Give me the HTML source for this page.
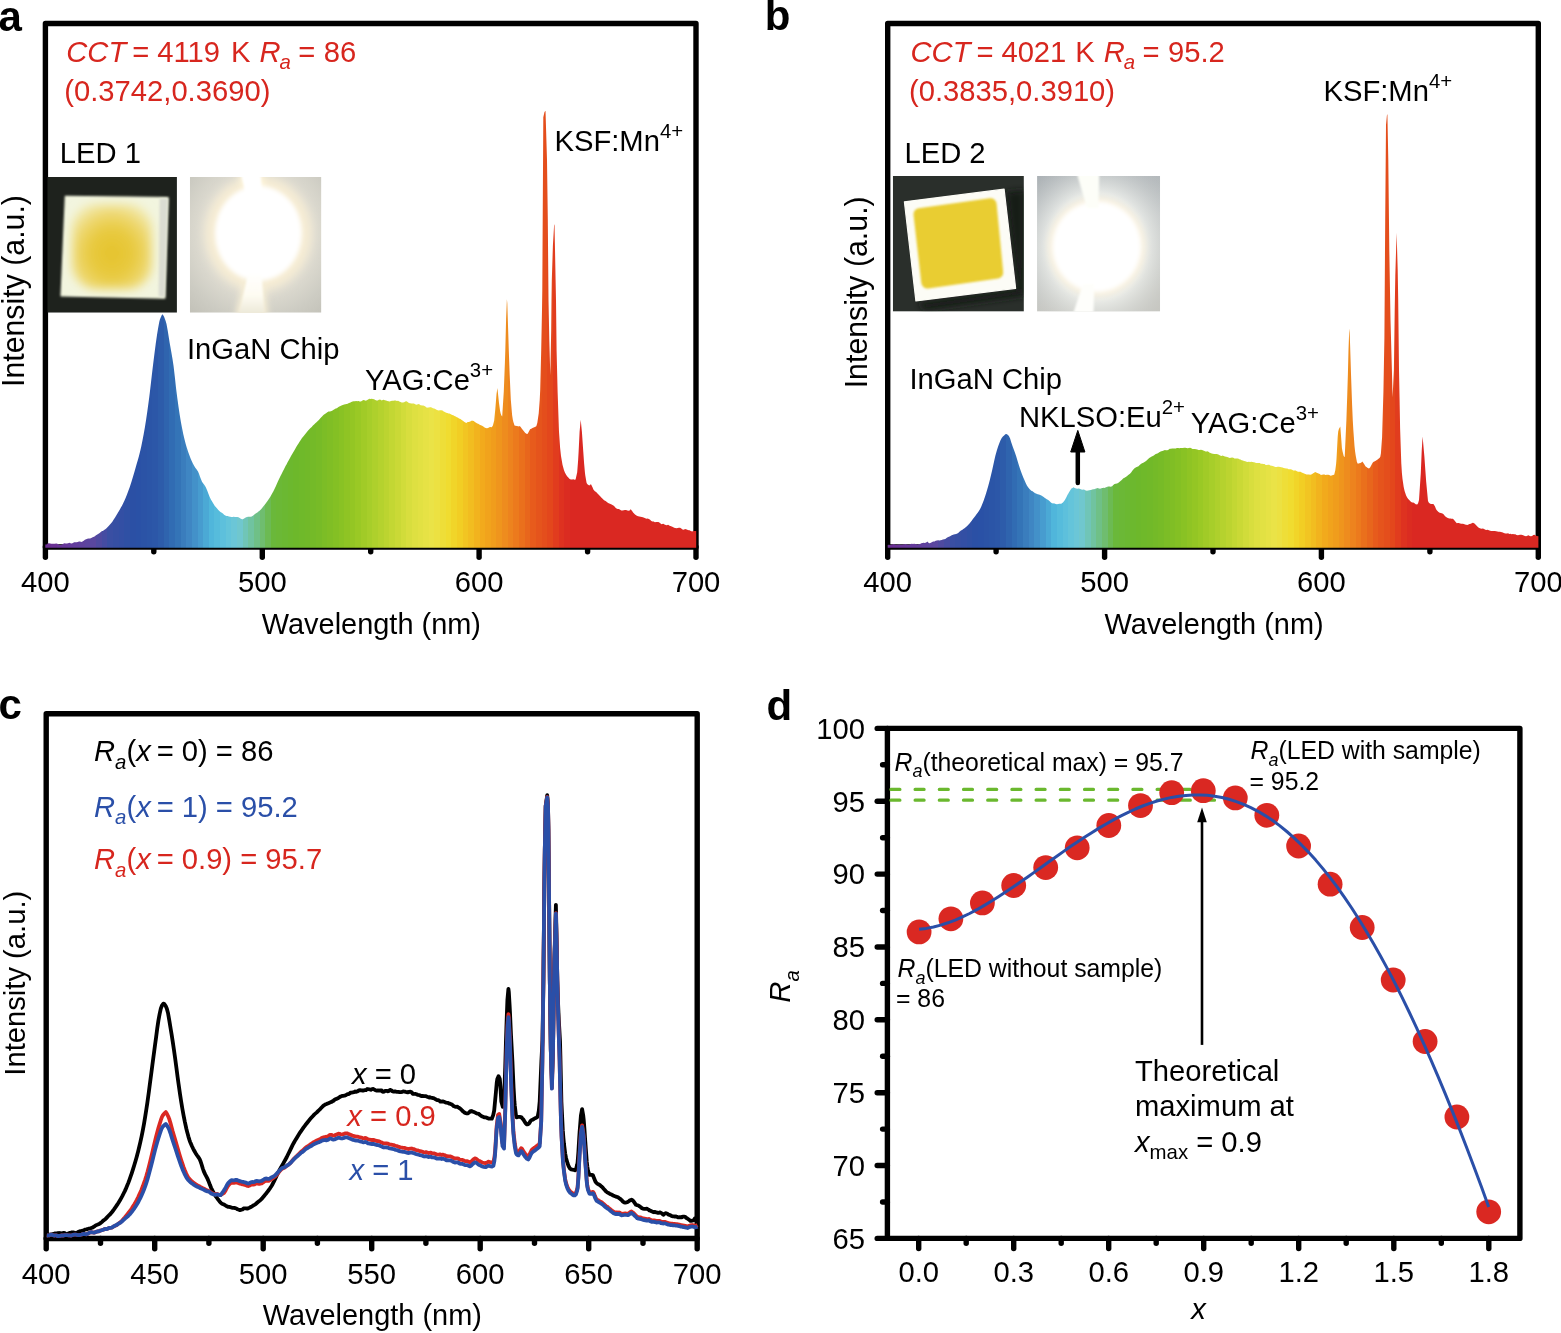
<!DOCTYPE html>
<html lang="en"><head><meta charset="utf-8"><title>LED spectra figure</title>
<style>
html,body{margin:0;padding:0;background:#fff;}
svg{display:block}
text{font-family:'Liberation Sans', Arial, Helvetica, sans-serif;font-size:29.2px;fill:#000}
.i{font-style:italic}
.b{font-weight:bold;font-size:42px}
.r{fill:#d7261e}
.bl{fill:#2a4fa8}
.sub{font-size:20.4px}
.ax{stroke:#000;stroke-width:5.4;fill:none;stroke-linejoin:round;stroke-linecap:round}
</style></head><body>
<svg width="1561" height="1333" viewBox="0 0 1561 1333">
<defs>
<linearGradient id="ga" gradientUnits="userSpaceOnUse" x1="45.3" y1="0" x2="696.0" y2="0"><stop offset="0.0000" stop-color="#6a2e90"/><stop offset="0.0087" stop-color="#6a2e90"/><stop offset="0.0087" stop-color="#693193"/><stop offset="0.0173" stop-color="#693193"/><stop offset="0.0173" stop-color="#683496"/><stop offset="0.0260" stop-color="#683496"/><stop offset="0.0260" stop-color="#663799"/><stop offset="0.0347" stop-color="#663799"/><stop offset="0.0347" stop-color="#643a9b"/><stop offset="0.0433" stop-color="#643a9b"/><stop offset="0.0433" stop-color="#623d9c"/><stop offset="0.0520" stop-color="#623d9c"/><stop offset="0.0520" stop-color="#5f419d"/><stop offset="0.0607" stop-color="#5f419d"/><stop offset="0.0607" stop-color="#5c449e"/><stop offset="0.0693" stop-color="#5c449e"/><stop offset="0.0693" stop-color="#5a479f"/><stop offset="0.0780" stop-color="#5a479f"/><stop offset="0.0780" stop-color="#4f4aa0"/><stop offset="0.0867" stop-color="#4f4aa0"/><stop offset="0.0867" stop-color="#454ca2"/><stop offset="0.0953" stop-color="#454ca2"/><stop offset="0.0953" stop-color="#3a4fa3"/><stop offset="0.1040" stop-color="#3a4fa3"/><stop offset="0.1040" stop-color="#364fa3"/><stop offset="0.1127" stop-color="#364fa3"/><stop offset="0.1127" stop-color="#334fa4"/><stop offset="0.1213" stop-color="#334fa4"/><stop offset="0.1213" stop-color="#2f50a4"/><stop offset="0.1300" stop-color="#2f50a4"/><stop offset="0.1300" stop-color="#2b50a5"/><stop offset="0.1387" stop-color="#2b50a5"/><stop offset="0.1387" stop-color="#2a51a6"/><stop offset="0.1473" stop-color="#2a51a6"/><stop offset="0.1473" stop-color="#2b53a6"/><stop offset="0.1560" stop-color="#2b53a6"/><stop offset="0.1560" stop-color="#2b55a7"/><stop offset="0.1647" stop-color="#2b55a7"/><stop offset="0.1647" stop-color="#2c57a8"/><stop offset="0.1733" stop-color="#2c57a8"/><stop offset="0.1733" stop-color="#2d5caa"/><stop offset="0.1820" stop-color="#2d5caa"/><stop offset="0.1820" stop-color="#2f64ae"/><stop offset="0.1907" stop-color="#2f64ae"/><stop offset="0.1907" stop-color="#316cb3"/><stop offset="0.1993" stop-color="#316cb3"/><stop offset="0.1993" stop-color="#3474b7"/><stop offset="0.2080" stop-color="#3474b7"/><stop offset="0.2080" stop-color="#3a7dbd"/><stop offset="0.2167" stop-color="#3a7dbd"/><stop offset="0.2167" stop-color="#3f86c3"/><stop offset="0.2253" stop-color="#3f86c3"/><stop offset="0.2253" stop-color="#4391c9"/><stop offset="0.2340" stop-color="#4391c9"/><stop offset="0.2340" stop-color="#479ccf"/><stop offset="0.2427" stop-color="#479ccf"/><stop offset="0.2427" stop-color="#4ba9d5"/><stop offset="0.2513" stop-color="#4ba9d5"/><stop offset="0.2513" stop-color="#50b6db"/><stop offset="0.2600" stop-color="#50b6db"/><stop offset="0.2600" stop-color="#56bcdc"/><stop offset="0.2687" stop-color="#56bcdc"/><stop offset="0.2687" stop-color="#5dc0dc"/><stop offset="0.2773" stop-color="#5dc0dc"/><stop offset="0.2773" stop-color="#64c4da"/><stop offset="0.2860" stop-color="#64c4da"/><stop offset="0.2860" stop-color="#6bc6d7"/><stop offset="0.2947" stop-color="#6bc6d7"/><stop offset="0.2947" stop-color="#70c7ce"/><stop offset="0.3033" stop-color="#70c7ce"/><stop offset="0.3033" stop-color="#70c5b7"/><stop offset="0.3120" stop-color="#70c5b7"/><stop offset="0.3120" stop-color="#70c3a0"/><stop offset="0.3207" stop-color="#70c3a0"/><stop offset="0.3207" stop-color="#6fc087"/><stop offset="0.3293" stop-color="#6fc087"/><stop offset="0.3293" stop-color="#6fbd6f"/><stop offset="0.3380" stop-color="#6fbd6f"/><stop offset="0.3380" stop-color="#6cba53"/><stop offset="0.3467" stop-color="#6cba53"/><stop offset="0.3467" stop-color="#6ab83a"/><stop offset="0.3553" stop-color="#6ab83a"/><stop offset="0.3553" stop-color="#6bb836"/><stop offset="0.3640" stop-color="#6bb836"/><stop offset="0.3640" stop-color="#6bb832"/><stop offset="0.3727" stop-color="#6bb832"/><stop offset="0.3727" stop-color="#6cb82e"/><stop offset="0.3813" stop-color="#6cb82e"/><stop offset="0.3813" stop-color="#6db82b"/><stop offset="0.3900" stop-color="#6db82b"/><stop offset="0.3900" stop-color="#6fb92a"/><stop offset="0.3987" stop-color="#6fb92a"/><stop offset="0.3987" stop-color="#71b929"/><stop offset="0.4073" stop-color="#71b929"/><stop offset="0.4073" stop-color="#74ba28"/><stop offset="0.4160" stop-color="#74ba28"/><stop offset="0.4160" stop-color="#77bb27"/><stop offset="0.4247" stop-color="#77bb27"/><stop offset="0.4247" stop-color="#7cbd26"/><stop offset="0.4333" stop-color="#7cbd26"/><stop offset="0.4333" stop-color="#80be25"/><stop offset="0.4420" stop-color="#80be25"/><stop offset="0.4420" stop-color="#84c024"/><stop offset="0.4507" stop-color="#84c024"/><stop offset="0.4507" stop-color="#89c224"/><stop offset="0.4593" stop-color="#89c224"/><stop offset="0.4593" stop-color="#8fc424"/><stop offset="0.4680" stop-color="#8fc424"/><stop offset="0.4680" stop-color="#94c624"/><stop offset="0.4767" stop-color="#94c624"/><stop offset="0.4767" stop-color="#9ac925"/><stop offset="0.4853" stop-color="#9ac925"/><stop offset="0.4853" stop-color="#a1cb27"/><stop offset="0.4940" stop-color="#a1cb27"/><stop offset="0.4940" stop-color="#a7ce2a"/><stop offset="0.5027" stop-color="#a7ce2a"/><stop offset="0.5027" stop-color="#aed02c"/><stop offset="0.5113" stop-color="#aed02c"/><stop offset="0.5113" stop-color="#b5d22e"/><stop offset="0.5200" stop-color="#b5d22e"/><stop offset="0.5200" stop-color="#bcd430"/><stop offset="0.5287" stop-color="#bcd430"/><stop offset="0.5287" stop-color="#c3d733"/><stop offset="0.5373" stop-color="#c3d733"/><stop offset="0.5373" stop-color="#cad936"/><stop offset="0.5460" stop-color="#cad936"/><stop offset="0.5460" stop-color="#d1dc3a"/><stop offset="0.5547" stop-color="#d1dc3a"/><stop offset="0.5547" stop-color="#d8de3e"/><stop offset="0.5633" stop-color="#d8de3e"/><stop offset="0.5633" stop-color="#dee041"/><stop offset="0.5720" stop-color="#dee041"/><stop offset="0.5720" stop-color="#e2e143"/><stop offset="0.5807" stop-color="#e2e143"/><stop offset="0.5807" stop-color="#e6e245"/><stop offset="0.5893" stop-color="#e6e245"/><stop offset="0.5893" stop-color="#eae347"/><stop offset="0.5980" stop-color="#eae347"/><stop offset="0.5980" stop-color="#ece142"/><stop offset="0.6067" stop-color="#ece142"/><stop offset="0.6067" stop-color="#eede38"/><stop offset="0.6153" stop-color="#eede38"/><stop offset="0.6153" stop-color="#f0dc30"/><stop offset="0.6240" stop-color="#f0dc30"/><stop offset="0.6240" stop-color="#f1d529"/><stop offset="0.6327" stop-color="#f1d529"/><stop offset="0.6327" stop-color="#f2ce24"/><stop offset="0.6413" stop-color="#f2ce24"/><stop offset="0.6413" stop-color="#f2c522"/><stop offset="0.6500" stop-color="#f2c522"/><stop offset="0.6500" stop-color="#f2bd20"/><stop offset="0.6587" stop-color="#f2bd20"/><stop offset="0.6587" stop-color="#f2b31e"/><stop offset="0.6673" stop-color="#f2b31e"/><stop offset="0.6673" stop-color="#f2aa1c"/><stop offset="0.6760" stop-color="#f2aa1c"/><stop offset="0.6760" stop-color="#f1a31c"/><stop offset="0.6847" stop-color="#f1a31c"/><stop offset="0.6847" stop-color="#f09d1c"/><stop offset="0.6933" stop-color="#f09d1c"/><stop offset="0.6933" stop-color="#ef951d"/><stop offset="0.7020" stop-color="#ef951d"/><stop offset="0.7020" stop-color="#ee8c1e"/><stop offset="0.7107" stop-color="#ee8c1e"/><stop offset="0.7107" stop-color="#ed831e"/><stop offset="0.7193" stop-color="#ed831e"/><stop offset="0.7193" stop-color="#ec7a1d"/><stop offset="0.7280" stop-color="#ec7a1d"/><stop offset="0.7280" stop-color="#ea701c"/><stop offset="0.7367" stop-color="#ea701c"/><stop offset="0.7367" stop-color="#e8661c"/><stop offset="0.7453" stop-color="#e8661c"/><stop offset="0.7453" stop-color="#e75b1c"/><stop offset="0.7540" stop-color="#e75b1c"/><stop offset="0.7540" stop-color="#e5541c"/><stop offset="0.7627" stop-color="#e5541c"/><stop offset="0.7627" stop-color="#e44e1c"/><stop offset="0.7713" stop-color="#e44e1c"/><stop offset="0.7713" stop-color="#e3471c"/><stop offset="0.7800" stop-color="#e3471c"/><stop offset="0.7800" stop-color="#e13c1e"/><stop offset="0.7887" stop-color="#e13c1e"/><stop offset="0.7887" stop-color="#de3220"/><stop offset="0.7973" stop-color="#de3220"/><stop offset="0.7973" stop-color="#db2c21"/><stop offset="0.8060" stop-color="#db2c21"/><stop offset="0.8060" stop-color="#da2822"/><stop offset="0.8147" stop-color="#da2822"/><stop offset="0.8147" stop-color="#da2822"/><stop offset="0.8233" stop-color="#da2822"/><stop offset="1" stop-color="#da2822"/></linearGradient>
<linearGradient id="gb" gradientUnits="userSpaceOnUse" x1="887.7" y1="0" x2="1538.4" y2="0"><stop offset="0.0000" stop-color="#6a2e90"/><stop offset="0.0087" stop-color="#6a2e90"/><stop offset="0.0087" stop-color="#693193"/><stop offset="0.0173" stop-color="#693193"/><stop offset="0.0173" stop-color="#683496"/><stop offset="0.0260" stop-color="#683496"/><stop offset="0.0260" stop-color="#663799"/><stop offset="0.0347" stop-color="#663799"/><stop offset="0.0347" stop-color="#643a9b"/><stop offset="0.0433" stop-color="#643a9b"/><stop offset="0.0433" stop-color="#623d9c"/><stop offset="0.0520" stop-color="#623d9c"/><stop offset="0.0520" stop-color="#5f419d"/><stop offset="0.0607" stop-color="#5f419d"/><stop offset="0.0607" stop-color="#5c449e"/><stop offset="0.0693" stop-color="#5c449e"/><stop offset="0.0693" stop-color="#5a479f"/><stop offset="0.0780" stop-color="#5a479f"/><stop offset="0.0780" stop-color="#4f4aa0"/><stop offset="0.0867" stop-color="#4f4aa0"/><stop offset="0.0867" stop-color="#454ca2"/><stop offset="0.0953" stop-color="#454ca2"/><stop offset="0.0953" stop-color="#3a4fa3"/><stop offset="0.1040" stop-color="#3a4fa3"/><stop offset="0.1040" stop-color="#364fa3"/><stop offset="0.1127" stop-color="#364fa3"/><stop offset="0.1127" stop-color="#334fa4"/><stop offset="0.1213" stop-color="#334fa4"/><stop offset="0.1213" stop-color="#2f50a4"/><stop offset="0.1300" stop-color="#2f50a4"/><stop offset="0.1300" stop-color="#2b50a5"/><stop offset="0.1387" stop-color="#2b50a5"/><stop offset="0.1387" stop-color="#2a51a6"/><stop offset="0.1473" stop-color="#2a51a6"/><stop offset="0.1473" stop-color="#2b53a6"/><stop offset="0.1560" stop-color="#2b53a6"/><stop offset="0.1560" stop-color="#2b55a7"/><stop offset="0.1647" stop-color="#2b55a7"/><stop offset="0.1647" stop-color="#2c57a8"/><stop offset="0.1733" stop-color="#2c57a8"/><stop offset="0.1733" stop-color="#2d5caa"/><stop offset="0.1820" stop-color="#2d5caa"/><stop offset="0.1820" stop-color="#2f64ae"/><stop offset="0.1907" stop-color="#2f64ae"/><stop offset="0.1907" stop-color="#316cb3"/><stop offset="0.1993" stop-color="#316cb3"/><stop offset="0.1993" stop-color="#3474b7"/><stop offset="0.2080" stop-color="#3474b7"/><stop offset="0.2080" stop-color="#3a7dbd"/><stop offset="0.2167" stop-color="#3a7dbd"/><stop offset="0.2167" stop-color="#3f86c3"/><stop offset="0.2253" stop-color="#3f86c3"/><stop offset="0.2253" stop-color="#4391c9"/><stop offset="0.2340" stop-color="#4391c9"/><stop offset="0.2340" stop-color="#479ccf"/><stop offset="0.2427" stop-color="#479ccf"/><stop offset="0.2427" stop-color="#4ba9d5"/><stop offset="0.2513" stop-color="#4ba9d5"/><stop offset="0.2513" stop-color="#50b6db"/><stop offset="0.2600" stop-color="#50b6db"/><stop offset="0.2600" stop-color="#56bcdc"/><stop offset="0.2687" stop-color="#56bcdc"/><stop offset="0.2687" stop-color="#5dc0dc"/><stop offset="0.2773" stop-color="#5dc0dc"/><stop offset="0.2773" stop-color="#64c4da"/><stop offset="0.2860" stop-color="#64c4da"/><stop offset="0.2860" stop-color="#6bc6d7"/><stop offset="0.2947" stop-color="#6bc6d7"/><stop offset="0.2947" stop-color="#70c7ce"/><stop offset="0.3033" stop-color="#70c7ce"/><stop offset="0.3033" stop-color="#70c5b7"/><stop offset="0.3120" stop-color="#70c5b7"/><stop offset="0.3120" stop-color="#70c3a0"/><stop offset="0.3207" stop-color="#70c3a0"/><stop offset="0.3207" stop-color="#6fc087"/><stop offset="0.3293" stop-color="#6fc087"/><stop offset="0.3293" stop-color="#6fbd6f"/><stop offset="0.3380" stop-color="#6fbd6f"/><stop offset="0.3380" stop-color="#6cba53"/><stop offset="0.3467" stop-color="#6cba53"/><stop offset="0.3467" stop-color="#6ab83a"/><stop offset="0.3553" stop-color="#6ab83a"/><stop offset="0.3553" stop-color="#6bb836"/><stop offset="0.3640" stop-color="#6bb836"/><stop offset="0.3640" stop-color="#6bb832"/><stop offset="0.3727" stop-color="#6bb832"/><stop offset="0.3727" stop-color="#6cb82e"/><stop offset="0.3813" stop-color="#6cb82e"/><stop offset="0.3813" stop-color="#6db82b"/><stop offset="0.3900" stop-color="#6db82b"/><stop offset="0.3900" stop-color="#6fb92a"/><stop offset="0.3987" stop-color="#6fb92a"/><stop offset="0.3987" stop-color="#71b929"/><stop offset="0.4073" stop-color="#71b929"/><stop offset="0.4073" stop-color="#74ba28"/><stop offset="0.4160" stop-color="#74ba28"/><stop offset="0.4160" stop-color="#77bb27"/><stop offset="0.4247" stop-color="#77bb27"/><stop offset="0.4247" stop-color="#7cbd26"/><stop offset="0.4333" stop-color="#7cbd26"/><stop offset="0.4333" stop-color="#80be25"/><stop offset="0.4420" stop-color="#80be25"/><stop offset="0.4420" stop-color="#84c024"/><stop offset="0.4507" stop-color="#84c024"/><stop offset="0.4507" stop-color="#89c224"/><stop offset="0.4593" stop-color="#89c224"/><stop offset="0.4593" stop-color="#8fc424"/><stop offset="0.4680" stop-color="#8fc424"/><stop offset="0.4680" stop-color="#94c624"/><stop offset="0.4767" stop-color="#94c624"/><stop offset="0.4767" stop-color="#9ac925"/><stop offset="0.4853" stop-color="#9ac925"/><stop offset="0.4853" stop-color="#a1cb27"/><stop offset="0.4940" stop-color="#a1cb27"/><stop offset="0.4940" stop-color="#a7ce2a"/><stop offset="0.5027" stop-color="#a7ce2a"/><stop offset="0.5027" stop-color="#aed02c"/><stop offset="0.5113" stop-color="#aed02c"/><stop offset="0.5113" stop-color="#b5d22e"/><stop offset="0.5200" stop-color="#b5d22e"/><stop offset="0.5200" stop-color="#bcd430"/><stop offset="0.5287" stop-color="#bcd430"/><stop offset="0.5287" stop-color="#c3d733"/><stop offset="0.5373" stop-color="#c3d733"/><stop offset="0.5373" stop-color="#cad936"/><stop offset="0.5460" stop-color="#cad936"/><stop offset="0.5460" stop-color="#d1dc3a"/><stop offset="0.5547" stop-color="#d1dc3a"/><stop offset="0.5547" stop-color="#d8de3e"/><stop offset="0.5633" stop-color="#d8de3e"/><stop offset="0.5633" stop-color="#dee041"/><stop offset="0.5720" stop-color="#dee041"/><stop offset="0.5720" stop-color="#e2e143"/><stop offset="0.5807" stop-color="#e2e143"/><stop offset="0.5807" stop-color="#e6e245"/><stop offset="0.5893" stop-color="#e6e245"/><stop offset="0.5893" stop-color="#eae347"/><stop offset="0.5980" stop-color="#eae347"/><stop offset="0.5980" stop-color="#ece142"/><stop offset="0.6067" stop-color="#ece142"/><stop offset="0.6067" stop-color="#eede38"/><stop offset="0.6153" stop-color="#eede38"/><stop offset="0.6153" stop-color="#f0dc30"/><stop offset="0.6240" stop-color="#f0dc30"/><stop offset="0.6240" stop-color="#f1d529"/><stop offset="0.6327" stop-color="#f1d529"/><stop offset="0.6327" stop-color="#f2ce24"/><stop offset="0.6413" stop-color="#f2ce24"/><stop offset="0.6413" stop-color="#f2c522"/><stop offset="0.6500" stop-color="#f2c522"/><stop offset="0.6500" stop-color="#f2bd20"/><stop offset="0.6587" stop-color="#f2bd20"/><stop offset="0.6587" stop-color="#f2b31e"/><stop offset="0.6673" stop-color="#f2b31e"/><stop offset="0.6673" stop-color="#f2aa1c"/><stop offset="0.6760" stop-color="#f2aa1c"/><stop offset="0.6760" stop-color="#f1a31c"/><stop offset="0.6847" stop-color="#f1a31c"/><stop offset="0.6847" stop-color="#f09d1c"/><stop offset="0.6933" stop-color="#f09d1c"/><stop offset="0.6933" stop-color="#ef951d"/><stop offset="0.7020" stop-color="#ef951d"/><stop offset="0.7020" stop-color="#ee8c1e"/><stop offset="0.7107" stop-color="#ee8c1e"/><stop offset="0.7107" stop-color="#ed831e"/><stop offset="0.7193" stop-color="#ed831e"/><stop offset="0.7193" stop-color="#ec7a1d"/><stop offset="0.7280" stop-color="#ec7a1d"/><stop offset="0.7280" stop-color="#ea701c"/><stop offset="0.7367" stop-color="#ea701c"/><stop offset="0.7367" stop-color="#e8661c"/><stop offset="0.7453" stop-color="#e8661c"/><stop offset="0.7453" stop-color="#e75b1c"/><stop offset="0.7540" stop-color="#e75b1c"/><stop offset="0.7540" stop-color="#e5541c"/><stop offset="0.7627" stop-color="#e5541c"/><stop offset="0.7627" stop-color="#e44e1c"/><stop offset="0.7713" stop-color="#e44e1c"/><stop offset="0.7713" stop-color="#e3471c"/><stop offset="0.7800" stop-color="#e3471c"/><stop offset="0.7800" stop-color="#e13c1e"/><stop offset="0.7887" stop-color="#e13c1e"/><stop offset="0.7887" stop-color="#de3220"/><stop offset="0.7973" stop-color="#de3220"/><stop offset="0.7973" stop-color="#db2c21"/><stop offset="0.8060" stop-color="#db2c21"/><stop offset="0.8060" stop-color="#da2822"/><stop offset="0.8147" stop-color="#da2822"/><stop offset="0.8147" stop-color="#da2822"/><stop offset="0.8233" stop-color="#da2822"/><stop offset="1" stop-color="#da2822"/></linearGradient>
<filter id="bl1" x="-30%" y="-30%" width="160%" height="160%"><feGaussianBlur stdDeviation="1.2"/></filter>
<filter id="bl2" x="-30%" y="-30%" width="160%" height="160%"><feGaussianBlur stdDeviation="2"/></filter>
<filter id="bl3" x="-30%" y="-30%" width="160%" height="160%"><feGaussianBlur stdDeviation="3"/></filter>
<filter id="bl5" x="-30%" y="-30%" width="160%" height="160%"><feGaussianBlur stdDeviation="5"/></filter>
<filter id="bl8" x="-40%" y="-40%" width="180%" height="180%"><feGaussianBlur stdDeviation="8"/></filter>
<radialGradient id="glowA" cx="0.52" cy="0.42" r="0.78"><stop offset="0" stop-color="#f0ece0"/><stop offset="0.5" stop-color="#e2dfd4"/><stop offset="0.8" stop-color="#cdccc3"/><stop offset="1" stop-color="#c2c1b8"/></radialGradient>
<linearGradient id="strkA" x1="0" y1="0" x2="0" y2="1"><stop offset="0" stop-color="#ffffff"/><stop offset="0.55" stop-color="#fefcf2"/><stop offset="1" stop-color="#ece8d8"/></linearGradient>
<linearGradient id="bgB2" x1="0" y1="0" x2="0.25" y2="1"><stop offset="0" stop-color="#aab0b4"/><stop offset="0.5" stop-color="#bfc3c4"/><stop offset="1" stop-color="#c6c6c0"/></linearGradient>
<filter id="bl07" x="-10%" y="-10%" width="120%" height="120%"><feGaussianBlur stdDeviation="0.7"/></filter>
<radialGradient id="glowB" cx="0.486" cy="0.52" r="0.72"><stop offset="0" stop-color="#ffffff" stop-opacity="1"/><stop offset="0.55" stop-color="#f0f2ee" stop-opacity="0.85"/><stop offset="0.8" stop-color="#dde0de" stop-opacity="0.35"/><stop offset="1" stop-color="#c8cccc" stop-opacity="0"/></radialGradient>
<radialGradient id="yelA" cx="0.5" cy="0.58" r="0.62"><stop offset="0" stop-color="#e5c32c"/><stop offset="0.45" stop-color="#e8ca40"/><stop offset="0.75" stop-color="#eed870"/><stop offset="1" stop-color="#f2eab0"/></radialGradient>
<clipPath id="cpA1"><rect x="47.5" y="176.9" width="129.4" height="135.8"/></clipPath>
<clipPath id="cpA2"><rect x="189.9" y="176.9" width="131.5" height="135.8"/></clipPath>
<clipPath id="cpB1"><rect x="892.9" y="176" width="130.9" height="135.4"/></clipPath>
<clipPath id="cpB2"><rect x="1037.1" y="176" width="123" height="135.5"/></clipPath>
</defs>
<rect width="1561" height="1333" fill="#fff"/>

<rect class="ax" x="45.4" y="23.5" width="650.6" height="523.5"/>
<line class="ax" x1="45.4" y1="547" x2="45.4" y2="557.3"/><line class="ax" x1="262.3" y1="547" x2="262.3" y2="557.3"/><line class="ax" x1="479.1" y1="547" x2="479.1" y2="557.3"/><line class="ax" x1="696.0" y1="547" x2="696.0" y2="557.3"/><line class="ax" x1="153.8" y1="547" x2="153.8" y2="551.8"/><line class="ax" x1="370.7" y1="547" x2="370.7" y2="551.8"/><line class="ax" x1="587.6" y1="547" x2="587.6" y2="551.8"/>
<polygon points="45.3,547.8 45.3,544.5 46.5,544.5 47.7,543.6 48.9,543.3 50.1,543.4 51.3,543.8 52.5,543.8 53.7,543.8 54.9,543.8 56.1,543.6 57.3,543.8 58.5,544.3 59.5,545.0 60.9,544.9 62.1,544.4 63.3,543.7 64.5,543.3 65.7,543.4 66.9,543.4 68.1,543.2 69.3,542.7 70.5,543.2 71.7,543.5 72.9,543.0 74.1,542.3 75.3,542.2 76.5,542.2 77.7,542.0 79.0,541.5 80.1,541.5 81.3,541.9 82.5,541.5 83.7,540.7 84.9,539.8 86.1,539.2 87.3,538.7 88.5,538.4 89.7,538.5 90.9,538.3 92.1,537.6 92.7,537.2 93.3,537.1 94.5,536.4 95.7,535.5 96.9,534.8 98.1,534.1 99.3,533.3 100.5,532.2 101.7,531.3 102.4,530.9 102.9,530.9 104.1,530.1 105.3,529.2 106.5,528.2 107.7,527.0 108.9,525.7 110.2,524.2 111.3,523.0 112.5,521.4 113.7,519.6 114.9,517.7 116.1,515.8 117.3,513.8 118.0,512.6 118.5,511.8 119.7,509.7 120.9,507.6 122.1,505.4 123.3,503.0 123.9,501.8 124.5,500.5 125.7,497.7 126.9,494.8 128.1,491.6 129.3,488.3 129.7,487.2 130.5,484.8 131.7,481.1 132.9,477.1 134.1,472.9 135.6,467.7 136.5,464.6 137.7,460.5 138.9,456.2 140.4,450.2 141.3,446.2 142.5,440.3 143.7,434.0 144.9,427.2 145.3,424.8 146.1,419.8 147.3,411.6 148.5,402.8 149.2,397.5 149.7,393.5 150.9,383.3 152.1,372.8 153.1,364.4 154.5,353.2 155.7,344.0 157.0,335.1 158.1,328.2 159.3,321.7 159.9,319.5 160.5,317.9 161.7,315.2 162.5,314.3 162.9,314.7 164.1,316.7 165.3,320.0 165.8,321.5 166.5,324.1 167.7,330.6 168.9,338.1 169.7,342.9 170.1,345.2 171.3,351.9 172.5,359.0 173.6,366.3 174.9,377.4 176.1,388.4 176.5,391.7 177.3,397.9 178.5,406.7 179.7,414.7 180.4,419.0 180.9,421.9 182.1,428.3 183.3,434.2 184.3,438.5 185.7,444.0 186.9,448.1 188.2,452.1 189.3,455.1 190.5,458.2 191.7,461.0 192.9,463.5 194.1,465.8 195.3,467.7 196.5,469.3 198.0,471.6 198.9,473.6 200.1,476.9 201.3,480.1 201.9,481.4 202.5,482.4 203.7,484.1 204.9,485.7 205.8,487.2 207.3,490.8 208.5,494.1 209.7,497.0 210.9,499.4 212.1,501.6 213.3,503.6 214.5,505.4 215.5,506.7 216.9,508.3 218.1,509.7 219.3,510.9 220.5,511.9 221.4,512.5 222.9,513.6 224.1,514.7 225.3,515.6 226.5,516.1 227.2,516.0 227.7,516.1 228.9,516.6 230.1,516.8 231.3,517.1 232.5,517.0 233.7,516.8 235.0,517.1 236.1,517.1 237.3,517.0 238.5,517.2 239.7,518.1 240.9,518.7 242.1,519.2 242.8,519.3 243.3,518.9 244.5,518.3 245.7,517.5 246.9,517.1 248.1,516.7 249.3,516.8 250.6,516.8 251.7,516.5 252.9,515.7 254.1,514.7 255.3,513.8 256.5,513.0 257.7,512.2 258.4,511.6 258.9,511.3 260.1,510.2 261.3,508.9 262.5,507.5 263.7,506.0 264.9,504.5 266.2,502.8 267.3,501.3 268.5,499.5 269.7,497.7 270.9,495.7 272.1,493.6 273.3,491.4 274.0,490.1 274.5,489.1 275.7,486.5 276.9,483.7 278.0,481.3 279.3,478.6 280.5,476.1 281.7,473.7 282.9,471.3 284.1,468.9 285.3,466.6 286.0,465.3 286.5,464.4 287.7,462.1 288.9,459.9 290.1,457.7 291.3,455.6 292.5,453.5 294.0,450.9 294.9,449.4 296.1,447.3 297.3,445.3 298.5,443.4 299.7,441.5 300.9,439.7 302.0,438.1 303.3,436.4 304.5,434.9 305.7,433.4 306.9,432.0 308.1,430.5 309.3,429.2 310.0,428.5 310.5,428.1 311.7,426.9 312.9,425.6 314.1,424.5 315.3,423.3 316.5,422.2 318.0,420.8 318.9,419.9 320.1,418.6 321.3,417.3 322.5,416.0 323.7,414.8 324.9,414.0 326.0,413.2 327.3,412.3 328.5,411.6 329.7,411.5 330.9,411.3 332.1,410.8 333.3,409.9 334.0,409.5 334.5,409.3 335.7,408.6 336.9,408.2 338.1,407.3 339.3,406.6 340.5,405.9 342.0,405.3 342.9,404.9 344.1,404.4 345.3,404.3 346.5,403.9 347.7,403.7 348.9,403.1 350.0,402.8 351.3,402.1 352.5,401.6 353.7,401.2 354.9,401.3 356.1,401.1 357.3,401.2 358.0,400.9 358.5,401.1 359.7,401.5 360.9,401.5 362.1,400.7 363.3,400.1 364.5,400.3 365.7,400.7 366.9,400.3 368.1,399.5 369.3,398.8 370.5,398.9 371.7,398.7 372.9,399.0 374.1,399.2 375.3,399.9 376.5,400.4 377.7,400.5 378.9,399.8 380.1,399.6 381.3,400.2 382.0,400.5 382.5,400.1 383.7,399.8 384.9,400.3 386.1,400.6 387.3,401.0 388.5,401.2 389.7,401.4 390.9,400.9 392.1,400.8 393.3,400.8 394.5,400.6 395.0,400.5 395.7,400.4 396.9,400.9 398.1,400.7 399.3,401.6 400.5,402.0 401.7,402.5 402.9,402.5 404.1,402.2 405.3,401.5 406.5,401.3 407.7,402.1 408.9,402.9 410.1,403.3 411.3,403.6 412.5,403.5 413.7,403.5 414.9,404.1 416.1,404.7 417.3,404.4 418.5,404.1 419.7,404.5 420.5,405.2 420.9,405.2 422.1,405.5 423.3,405.4 424.5,405.9 425.7,406.7 426.9,407.7 428.1,407.6 429.3,407.4 430.0,406.9 430.5,407.2 431.7,407.6 432.9,408.3 434.1,408.6 435.3,409.1 436.5,409.8 437.7,410.2 438.9,410.5 439.8,410.2 441.3,410.3 442.5,410.6 443.7,411.4 444.9,412.1 446.1,412.8 447.3,413.1 448.5,413.4 449.4,413.5 450.9,414.3 452.1,414.9 453.3,415.3 454.5,416.0 455.7,416.5 456.9,417.3 458.1,417.7 459.0,418.4 460.5,419.0 461.7,419.9 462.9,420.8 464.1,421.8 465.3,422.6 466.5,423.0 467.0,422.5 467.7,422.0 468.9,422.0 470.1,421.4 471.3,420.9 471.8,420.5 472.5,420.8 473.7,421.1 474.9,422.0 476.1,422.8 477.3,423.4 478.2,423.8 479.7,424.7 480.9,425.3 482.1,425.8 483.3,426.4 484.6,427.4 485.7,428.1 486.9,428.3 488.1,427.9 489.3,427.2 490.5,426.9 491.8,427.2 492.9,425.5 494.2,420.5 495.3,408.9 495.8,402.9 496.5,394.2 497.4,388.1 499.0,402.9 500.1,411.0 500.6,413.3 501.3,415.3 502.2,416.4 503.8,391.3 504.9,362.7 505.3,350.8 506.1,319.1 506.9,299.3 507.3,303.3 508.8,350.8 509.7,375.3 510.8,399.4 512.1,414.9 512.8,419.6 513.3,421.7 514.5,425.6 515.4,425.8 516.9,426.0 518.1,426.2 518.9,426.4 519.3,426.1 520.5,426.8 521.7,428.4 522.9,430.1 523.5,430.7 524.1,431.5 525.3,433.0 526.5,433.7 527.0,434.0 527.7,433.8 528.9,431.6 530.1,429.3 530.6,429.0 531.3,428.7 532.5,428.1 533.7,427.4 534.9,426.9 536.3,426.2 537.3,423.0 538.7,413.5 539.7,400.3 540.2,390.0 541.2,350.0 542.0,310.0 542.3,290.0 543.3,117.3 544.5,112.0 545.5,110.8 547.0,160.0 547.8,220.0 548.5,300.0 549.3,340.0 550.3,375.3 551.2,330.0 551.5,300.0 551.8,280.0 552.9,245.4 554.1,225.3 554.5,224.3 555.6,280.0 556.0,300.0 556.6,350.8 557.6,391.3 559.0,431.8 560.1,447.7 561.0,456.0 562.5,464.8 564.0,470.3 564.9,472.4 566.1,474.7 567.3,476.4 568.1,477.3 568.5,477.7 569.7,478.9 570.9,479.6 572.2,479.4 573.3,479.3 574.5,479.8 575.6,479.6 577.2,472.3 578.1,460.6 578.6,452.0 579.6,431.8 580.7,419.8 581.9,431.8 582.9,446.2 583.3,452.0 584.1,463.3 584.9,472.3 585.3,475.4 586.5,482.4 586.9,483.4 587.7,484.5 588.9,485.2 589.4,485.4 590.1,484.8 591.0,484.2 592.5,487.3 593.4,489.5 594.9,491.2 596.1,492.1 597.5,493.4 598.5,494.4 599.7,495.7 600.9,497.0 601.5,497.7 602.1,498.3 603.3,499.5 604.5,500.5 605.6,501.1 606.9,502.0 608.1,502.9 609.3,503.5 610.5,504.1 611.6,504.5 612.9,505.3 614.1,506.1 615.3,507.4 616.5,508.6 617.7,509.0 618.9,509.1 620.1,509.7 621.3,510.5 622.5,510.6 623.8,510.3 624.9,510.0 626.1,510.1 627.3,510.4 628.5,510.7 629.7,510.4 630.2,509.6 630.9,509.6 632.1,511.1 633.3,512.7 634.1,513.6 634.5,513.9 635.7,514.9 636.9,515.7 638.1,516.3 639.3,516.5 640.5,516.8 641.8,517.1 642.9,517.2 644.1,517.7 645.3,518.3 646.5,518.8 647.5,518.6 648.9,519.1 650.1,519.8 651.3,520.9 652.5,521.5 653.3,521.6 653.7,521.5 654.9,522.2 656.1,522.1 657.3,522.1 658.4,522.0 659.7,522.8 660.9,523.8 661.6,524.3 662.1,523.9 663.3,523.8 664.5,524.4 665.7,525.1 666.9,525.3 667.4,525.0 668.1,524.8 669.3,525.4 670.0,525.9 670.5,526.1 671.7,526.5 672.9,527.0 674.1,527.8 675.3,528.0 676.5,528.2 677.7,527.9 678.9,527.8 680.1,527.8 681.3,528.4 682.5,529.5 684.0,529.7 684.9,529.1 686.1,529.2 687.3,529.8 688.5,530.3 689.2,530.0 689.7,530.6 690.9,531.0 692.1,531.5 693.3,530.9 694.5,530.9 695.7,531.0 696.2,531.1 696.2,547.8" fill="url(#ga)"/>
<text transform="scale(1,1.03)" x="45.4" y="575.24" text-anchor="middle">400</text>
<text transform="scale(1,1.03)" x="262.3" y="575.24" text-anchor="middle">500</text>
<text transform="scale(1,1.03)" x="479.1" y="575.24" text-anchor="middle">600</text>
<text transform="scale(1,1.03)" x="696.0" y="575.24" text-anchor="middle">700</text>
<text transform="scale(1,1.03)" x="261.8" y="615.73" textLength="219.2" lengthAdjust="spacingAndGlyphs">Wavelength (nm)</text>
<text style="font-size:30.3px" transform="translate(23.8,387.0) rotate(-90) scale(1,1.03)">Intensity (a.u.)</text>
<rect class="ax" x="887.7" y="23.5" width="650.6" height="523.5"/>
<line class="ax" x1="887.7" y1="547" x2="887.7" y2="557.3"/><line class="ax" x1="1104.6" y1="547" x2="1104.6" y2="557.3"/><line class="ax" x1="1321.4" y1="547" x2="1321.4" y2="557.3"/><line class="ax" x1="1538.3" y1="547" x2="1538.3" y2="557.3"/><line class="ax" x1="996.1" y1="547" x2="996.1" y2="551.8"/><line class="ax" x1="1213.0" y1="547" x2="1213.0" y2="551.8"/><line class="ax" x1="1429.9" y1="547" x2="1429.9" y2="551.8"/>
<polygon points="887.7,547.8 887.7,545.0 888.9,544.8 890.1,544.9 891.3,544.8 892.5,544.5 893.7,544.1 894.9,544.4 896.1,544.9 897.3,544.7 898.5,544.6 899.7,544.6 900.9,544.8 902.1,544.8 903.3,544.5 904.5,544.3 905.7,544.1 906.9,544.6 908.1,544.8 909.3,544.8 910.5,544.1 912.0,543.8 912.9,543.9 914.1,543.8 915.3,544.1 916.5,544.3 917.7,544.7 918.9,543.9 920.1,543.9 921.3,543.3 922.5,543.0 923.7,542.7 924.9,542.9 926.1,542.4 927.3,541.7 928.0,541.8 928.5,542.9 929.7,543.2 930.9,542.7 932.1,542.1 933.3,541.6 934.5,541.4 935.7,540.8 936.9,540.6 938.1,540.3 939.3,540.5 940.5,540.2 941.7,540.0 942.9,539.6 944.1,539.3 945.3,538.9 946.5,538.1 947.7,537.3 948.9,536.7 950.1,536.2 951.3,535.6 952.1,535.0 952.5,534.9 953.7,534.5 954.9,534.2 956.1,534.0 957.3,533.4 958.5,532.7 959.7,531.5 960.1,531.2 960.9,530.6 962.1,530.0 963.3,529.1 964.5,528.2 965.7,527.3 966.9,526.3 968.1,525.1 969.3,523.7 970.5,522.2 971.7,520.7 972.9,519.1 974.1,517.4 974.5,516.9 975.3,515.9 976.5,514.3 977.7,512.7 978.9,510.9 980.1,508.9 981.3,506.4 982.5,503.6 983.7,500.4 984.1,499.3 984.9,497.0 986.1,493.3 987.3,489.3 988.1,486.5 988.5,485.1 989.7,480.4 990.9,475.6 992.1,470.5 993.3,465.0 994.5,459.4 995.3,456.1 995.7,454.6 996.9,450.3 998.1,446.5 999.3,443.2 1000.5,440.3 1001.7,437.9 1002.5,436.9 1002.9,436.5 1004.1,435.4 1005.3,434.3 1006.5,434.0 1007.7,434.7 1008.9,436.0 1010.1,438.6 1011.3,442.4 1012.1,444.8 1012.5,445.9 1013.7,449.2 1014.9,452.6 1016.1,456.1 1017.3,459.9 1018.5,463.9 1019.7,467.7 1020.1,468.9 1020.9,471.2 1022.1,474.4 1023.3,477.4 1024.1,479.3 1024.5,480.2 1025.7,482.9 1026.9,485.4 1028.1,487.3 1029.3,488.7 1030.5,489.9 1031.7,490.9 1032.1,490.9 1032.9,491.6 1034.1,492.6 1035.3,493.3 1036.5,493.8 1037.7,494.2 1038.9,494.5 1040.2,494.9 1041.3,495.5 1042.5,496.3 1043.7,497.0 1044.9,497.9 1046.1,498.7 1047.3,499.5 1048.2,500.1 1049.7,501.3 1050.9,502.4 1052.1,503.2 1053.3,503.6 1053.8,503.3 1054.5,503.5 1055.7,504.1 1056.9,504.2 1058.1,504.1 1059.3,503.8 1060.5,503.8 1061.0,503.7 1061.7,503.5 1062.9,502.5 1064.2,500.9 1065.3,499.2 1066.5,496.9 1067.7,494.6 1068.2,493.7 1068.9,492.5 1070.1,490.5 1071.4,488.6 1072.5,487.9 1073.7,487.3 1074.6,488.0 1076.1,488.4 1077.3,488.7 1078.6,488.5 1079.7,488.8 1080.9,489.2 1082.1,489.7 1083.4,489.6 1084.5,489.8 1085.7,490.4 1086.9,490.8 1088.2,490.6 1089.3,490.2 1090.5,490.1 1091.7,489.8 1092.9,489.2 1094.1,489.2 1095.3,488.8 1096.2,488.4 1097.7,488.0 1098.9,488.6 1100.1,488.7 1101.3,488.3 1102.5,488.0 1103.7,487.8 1104.2,487.9 1104.9,487.8 1106.1,487.3 1107.3,486.7 1108.5,486.5 1109.7,486.6 1110.6,486.8 1112.1,486.2 1113.3,485.1 1114.5,484.0 1115.7,483.8 1117.0,483.4 1118.1,482.9 1119.3,482.0 1120.5,481.0 1121.7,479.9 1122.9,478.7 1123.4,478.3 1124.1,477.9 1125.3,477.3 1126.5,476.4 1127.7,475.5 1128.9,474.6 1130.0,473.8 1131.3,472.2 1132.5,470.6 1134.0,468.8 1134.9,467.9 1136.1,467.2 1137.3,466.8 1138.5,466.2 1139.7,465.0 1140.9,464.0 1142.0,463.3 1143.3,462.7 1144.5,462.0 1145.7,461.3 1146.9,460.2 1148.1,459.0 1149.3,457.9 1150.0,457.5 1150.5,457.2 1151.7,456.6 1152.9,456.0 1154.1,455.3 1155.3,454.3 1156.5,453.7 1158.0,453.2 1158.9,452.6 1160.1,451.8 1161.3,451.2 1162.5,450.9 1163.7,450.4 1164.9,450.1 1166.0,450.3 1167.3,450.2 1168.5,449.7 1169.7,448.8 1170.9,448.7 1172.1,448.5 1173.3,448.5 1174.0,448.5 1174.5,448.6 1175.7,448.4 1176.9,448.1 1178.1,448.1 1179.3,448.2 1180.5,448.1 1181.7,448.0 1182.9,447.9 1184.1,447.8 1185.3,447.7 1186.5,448.0 1187.7,448.2 1188.9,448.0 1190.1,447.8 1191.3,448.3 1192.5,448.9 1193.3,448.9 1193.7,448.9 1194.9,449.0 1196.1,449.2 1197.3,449.4 1198.5,450.0 1199.7,450.1 1200.9,449.8 1202.1,450.1 1203.3,450.6 1204.5,450.9 1205.7,451.4 1206.1,451.7 1206.9,451.3 1208.1,451.5 1209.3,452.4 1210.5,453.1 1211.7,453.4 1212.9,453.7 1214.1,454.0 1215.3,453.9 1216.5,454.1 1217.7,454.2 1218.9,454.8 1220.1,455.4 1221.3,455.9 1222.1,455.8 1222.5,455.5 1223.7,455.9 1224.9,456.6 1226.1,456.8 1227.3,456.9 1228.5,457.4 1229.7,458.0 1230.9,457.8 1232.1,457.6 1233.3,457.8 1234.5,458.5 1235.7,458.6 1236.9,458.5 1238.1,458.5 1239.3,459.2 1240.5,459.5 1241.7,460.2 1242.9,460.5 1244.1,461.0 1245.3,461.2 1246.5,461.7 1247.7,461.9 1248.9,461.7 1250.1,461.9 1251.3,461.8 1252.5,462.0 1253.7,462.2 1254.1,462.3 1254.9,462.6 1256.1,463.1 1257.3,463.0 1258.5,463.0 1259.7,463.1 1260.9,463.7 1262.1,463.7 1263.3,463.9 1264.5,464.1 1265.7,465.0 1266.9,465.0 1268.1,464.8 1269.3,464.7 1270.2,465.4 1271.7,465.8 1272.9,466.1 1274.1,466.4 1275.3,466.9 1276.5,466.9 1277.7,466.7 1278.9,466.7 1280.1,467.1 1281.3,467.3 1282.5,467.5 1283.7,467.9 1284.9,468.3 1286.2,468.4 1287.3,468.6 1288.5,469.2 1289.7,469.3 1290.9,469.2 1292.1,469.7 1293.3,470.4 1294.5,470.6 1295.7,470.6 1296.9,471.3 1298.1,471.8 1299.0,471.7 1300.5,471.7 1301.7,472.6 1302.9,473.1 1304.1,473.5 1305.3,473.9 1306.5,474.5 1307.7,474.6 1308.9,474.6 1310.2,474.7 1311.3,474.5 1312.5,473.8 1313.7,473.1 1314.9,472.2 1315.3,472.0 1316.1,472.4 1317.3,472.9 1318.5,473.5 1319.8,474.1 1320.9,474.9 1322.1,474.7 1323.3,474.5 1324.5,474.6 1325.4,475.0 1326.9,474.7 1328.1,474.8 1329.3,475.1 1330.5,475.7 1331.7,475.4 1332.9,475.0 1334.2,474.8 1335.3,470.2 1336.1,464.0 1336.5,459.1 1337.7,436.8 1338.2,431.6 1338.9,428.9 1340.3,426.6 1341.3,439.8 1341.9,448.0 1342.5,451.2 1343.7,455.9 1344.7,457.3 1346.4,420.0 1347.3,393.4 1347.9,374.0 1348.5,349.7 1349.3,328.6 1349.7,332.5 1351.0,374.0 1352.1,404.8 1352.8,420.8 1353.3,429.4 1354.5,446.0 1355.1,451.4 1355.7,455.5 1356.9,462.1 1357.8,463.7 1359.3,463.2 1360.5,462.9 1361.7,462.2 1362.3,461.6 1362.9,462.2 1364.1,464.1 1365.3,466.0 1365.9,466.7 1366.5,467.1 1367.7,468.0 1369.0,468.5 1370.1,467.6 1371.3,465.3 1372.5,462.9 1373.1,462.2 1373.7,461.8 1374.9,461.2 1376.1,460.4 1377.6,459.4 1378.5,458.8 1379.7,457.8 1380.3,456.8 1380.9,453.4 1382.1,437.0 1383.4,392.0 1384.4,338.0 1385.2,221.0 1386.0,125.0 1386.9,115.5 1387.4,113.9 1388.3,160.0 1389.3,250.0 1390.5,320.0 1391.9,370.0 1392.6,397.2 1393.9,370.0 1394.7,310.0 1395.3,275.9 1396.6,232.7 1397.7,270.0 1398.2,300.0 1399.0,370.0 1399.6,400.0 1400.1,428.0 1401.3,463.4 1401.9,473.0 1402.5,478.9 1403.7,487.1 1404.6,491.0 1406.1,495.4 1407.3,497.8 1408.2,499.1 1409.7,500.6 1410.9,501.8 1412.1,502.6 1412.7,502.4 1413.3,502.5 1414.5,503.3 1415.7,504.2 1417.2,504.4 1418.1,503.2 1419.0,500.0 1420.8,473.0 1421.7,451.1 1422.6,436.5 1424.4,456.8 1425.3,469.5 1426.2,482.0 1428.0,500.9 1428.9,502.8 1430.2,503.7 1431.3,504.0 1432.5,503.9 1433.4,504.0 1434.9,506.2 1436.1,509.3 1437.0,510.6 1438.5,512.0 1439.7,512.8 1440.9,513.1 1442.4,513.5 1443.3,514.1 1444.5,515.4 1445.7,516.7 1446.9,517.6 1447.8,517.9 1449.3,518.5 1450.5,518.6 1451.4,518.7 1452.9,518.8 1454.1,520.1 1455.3,521.6 1456.8,523.2 1457.7,522.9 1458.9,522.9 1460.1,523.4 1461.3,523.7 1462.5,523.7 1464.0,524.1 1464.9,524.5 1466.1,524.8 1467.3,524.9 1468.5,524.5 1469.4,523.9 1470.9,523.7 1472.1,523.0 1473.0,522.8 1474.5,523.6 1475.7,524.7 1476.9,526.1 1478.4,527.6 1479.3,528.0 1480.5,528.6 1481.7,528.7 1482.9,528.6 1484.1,529.0 1485.3,529.7 1486.5,530.0 1487.4,529.7 1488.9,530.2 1490.1,530.7 1491.3,531.1 1492.5,530.9 1493.7,530.9 1494.9,531.0 1496.1,531.3 1497.3,531.5 1498.5,531.7 1500.0,531.8 1500.9,532.0 1502.1,532.2 1503.3,532.7 1504.5,533.3 1505.7,533.4 1506.9,533.4 1508.1,533.3 1509.3,533.9 1510.5,533.8 1511.7,534.2 1512.9,533.9 1514.1,534.2 1515.3,534.3 1516.5,535.0 1518.0,535.3 1518.9,535.1 1520.1,534.8 1521.3,534.7 1522.5,534.9 1523.7,535.4 1524.9,536.1 1526.1,536.2 1527.3,535.7 1528.5,535.3 1529.7,535.9 1530.9,536.3 1532.1,535.9 1533.3,535.0 1534.5,534.8 1535.7,535.5 1536.9,536.0 1538.4,536.2 1538.4,547.8" fill="url(#gb)"/>
<text transform="scale(1,1.03)" x="887.7" y="575.24" text-anchor="middle">400</text>
<text transform="scale(1,1.03)" x="1104.6" y="575.24" text-anchor="middle">500</text>
<text transform="scale(1,1.03)" x="1321.4" y="575.24" text-anchor="middle">600</text>
<text transform="scale(1,1.03)" x="1538.3" y="575.24" text-anchor="middle">700</text>
<text transform="scale(1,1.03)" x="1104.5" y="615.73" textLength="219.2" lengthAdjust="spacingAndGlyphs">Wavelength (nm)</text>
<text style="font-size:30.3px" transform="translate(866.9,388.3) rotate(-90) scale(1,1.03)">Intensity (a.u.)</text>
<text transform="scale(1,1.03)" class="b" x="-1.5" y="29.71">a</text>
<text transform="scale(1,1.03)" class="b" x="764.8" y="29.51">b</text>
<text transform="scale(1,1.03)" class="b" x="-1.5" y="698.54">c</text>
<text transform="scale(1,1.03)" class="b" x="766.5" y="699.22">d</text>
<text transform="scale(1,1.03)" class="r" y="60.29"><tspan class="i" x="66.3">CCT</tspan><tspan x="132.3">=</tspan><tspan x="157.2">4119</tspan><tspan x="231">K</tspan><tspan class="i" x="259.5">R</tspan><tspan class="i sub" x="279.5" dy="7.18">a</tspan><tspan x="298.2" dy="-7.18">=</tspan><tspan x="323.8">86</tspan></text>
<text transform="scale(1,1.03)" class="r" x="64.3" y="98.06">(0.3742,0.3690)</text>
<text transform="scale(1,1.03)" x="59.8" y="158.45">LED 1</text>
<text transform="scale(1,1.03)" x="187" y="348.54">InGaN Chip</text>
<text transform="scale(1,1.03)" x="365" y="378.45">YAG:Ce<tspan class="sub" dy="-12.43">3+</tspan></text>
<text transform="scale(1,1.03)" x="554.5" y="146.21">KSF:Mn<tspan class="sub" dy="-12.43">4+</tspan></text>
<text transform="scale(1,1.03)" class="r" y="60.29"><tspan class="i" x="910.5">CCT</tspan><tspan x="976.5">=</tspan><tspan x="1001.4">4021</tspan><tspan x="1075.2">K</tspan><tspan class="i" x="1103.7">R</tspan><tspan class="i sub" x="1123.7" dy="7.18">a</tspan><tspan x="1142.4" dy="-7.18">=</tspan><tspan x="1168">95.2</tspan></text>
<text transform="scale(1,1.03)" class="r" x="909" y="98.06">(0.3835,0.3910)</text>
<text transform="scale(1,1.03)" x="904.5" y="158.54">LED 2</text>
<text transform="scale(1,1.03)" x="909.5" y="377.67">InGaN Chip</text>
<text transform="scale(1,1.03)" x="1019" y="414.17">NKLSO:Eu<tspan class="sub" dy="-12.43">2+</tspan></text>
<text transform="scale(1,1.03)" x="1190.8" y="420.10">YAG:Ce<tspan class="sub" dy="-12.43">3+</tspan></text>
<text transform="scale(1,1.03)" x="1323.5" y="98.06">KSF:Mn<tspan class="sub" dy="-12.43">4+</tspan></text>
<line x1="1077.8" y1="483" x2="1077.8" y2="450" stroke="#000" stroke-width="4.5" stroke-linecap="round"/>
<polygon points="1077.8,430.4 1084.9,452 1070.7,452" fill="#000" stroke="#000" stroke-width="1" stroke-linejoin="round"/>
<g clip-path="url(#cpA1)">
<rect x="45" y="176.9" width="132.1" height="135.8" fill="#1e221d"/>
<polygon points="65.5,196.6 168,197.7 164.7,298 61.2,295.8" fill="#f2f5df" stroke="#f2f5df" stroke-width="1.5" stroke-linejoin="round" filter="url(#bl1)"/>
<polygon points="159.6,198.5 167.6,198.6 164.6,297 158.6,296.6" fill="#dadcd2" filter="url(#bl1)"/>
<rect x="72" y="204" width="80" height="85" rx="24" fill="url(#yelA)" filter="url(#bl5)"/>
</g>
<g clip-path="url(#cpA2)">
<rect x="189.9" y="176.9" width="131.5" height="135.8" fill="url(#glowA)"/>
<ellipse cx="258.4" cy="233.5" rx="53" ry="57" fill="#f7edd4" filter="url(#bl5)"/>
<polygon points="238,174 263,174 266,200 249,204" fill="#fff6dc" filter="url(#bl3)"/>
<polygon points="246,270 264,270 268,316 235,316" fill="#f6eed6" filter="url(#bl3)"/>
<ellipse cx="258.4" cy="233.3" rx="43.5" ry="47.5" fill="#ffffff" filter="url(#bl2)"/>
<polygon points="241,174 260.5,174 262.5,196 247,200" fill="#ffffff" filter="url(#bl1)"/>
<polygon points="248.5,272 261.5,272 264.4,314 239,314" fill="url(#strkA)" filter="url(#bl1)"/>
</g>
<g clip-path="url(#cpB1)">
<rect x="892.6" y="175.9" width="131.4" height="135.7" fill="#2a2f2b"/>
<polygon points="1006,192 1018,289 918,303 925,310 1024,296 1024,190" fill="#181b19" filter="url(#bl3)"/>
<polygon points="904.4,201.8 1004.1,189.2 1015.6,288.3 915.9,300.9" fill="#fcfcf6" stroke="#fcfcf6" stroke-width="1.2" stroke-linejoin="round" filter="url(#bl07)"/>
<polygon points="919.5,214.2 990.6,204.2 997.2,272.6 927.3,282.5" fill="#e9cd30" stroke="#e9cd30" stroke-width="12" stroke-linejoin="round" filter="url(#bl1)"/>
</g>
<g clip-path="url(#cpB2)">
<rect x="1037" y="175.9" width="123.1" height="135.7" fill="url(#bgB2)"/>
<rect x="1037" y="175.9" width="123.1" height="135.7" fill="url(#glowB)"/>
<ellipse cx="1096.8" cy="246.7" rx="48.5" ry="49.5" fill="#f9f1de" filter="url(#bl3)"/>
<ellipse cx="1096.8" cy="246.7" rx="44.5" ry="45.5" fill="#ffffff" filter="url(#bl2)"/>
<polygon points="1077,174 1099.2,174 1098.5,208 1087,208" fill="#fdfef8" filter="url(#bl1)"/>
<polygon points="1083,284 1094.3,284 1093.5,314 1073,314" fill="#fefefb" filter="url(#bl1)"/>
</g>
<rect class="ax" x="46.2" y="713.8" width="651.0" height="524.7"/>
<line class="ax" x1="46.2" y1="1238.5" x2="46.2" y2="1248.7"/><line class="ax" x1="154.7" y1="1238.5" x2="154.7" y2="1248.7"/><line class="ax" x1="263.2" y1="1238.5" x2="263.2" y2="1248.7"/><line class="ax" x1="371.7" y1="1238.5" x2="371.7" y2="1248.7"/><line class="ax" x1="480.2" y1="1238.5" x2="480.2" y2="1248.7"/><line class="ax" x1="588.7" y1="1238.5" x2="588.7" y2="1248.7"/><line class="ax" x1="697.2" y1="1238.5" x2="697.2" y2="1248.7"/><line class="ax" x1="100.5" y1="1238.5" x2="100.5" y2="1243.3"/><line class="ax" x1="208.9" y1="1238.5" x2="208.9" y2="1243.3"/><line class="ax" x1="317.4" y1="1238.5" x2="317.4" y2="1243.3"/><line class="ax" x1="425.9" y1="1238.5" x2="425.9" y2="1243.3"/><line class="ax" x1="534.5" y1="1238.5" x2="534.5" y2="1243.3"/><line class="ax" x1="643.0" y1="1238.5" x2="643.0" y2="1243.3"/>
<text transform="scale(1,1.03)" x="46.2" y="1247.09" text-anchor="middle">400</text>
<text transform="scale(1,1.03)" x="154.7" y="1247.09" text-anchor="middle">450</text>
<text transform="scale(1,1.03)" x="263.2" y="1247.09" text-anchor="middle">500</text>
<text transform="scale(1,1.03)" x="371.7" y="1247.09" text-anchor="middle">550</text>
<text transform="scale(1,1.03)" x="480.2" y="1247.09" text-anchor="middle">600</text>
<text transform="scale(1,1.03)" x="588.7" y="1247.09" text-anchor="middle">650</text>
<text transform="scale(1,1.03)" x="697.2" y="1247.09" text-anchor="middle">700</text>
<text transform="scale(1,1.03)" x="262.7" y="1286.70" textLength="219.2" lengthAdjust="spacingAndGlyphs">Wavelength (nm)</text>
<text transform="translate(25.2,1075.7) rotate(-90) scale(1,1.03)">Intensity (a.u.)</text>
<polyline points="46.8,1233.9 48.0,1234.6 49.2,1234.7 50.4,1234.5 51.6,1234.3 52.8,1234.2 54.0,1233.7 55.2,1233.3 56.4,1233.5 57.6,1233.2 58.8,1233.0 60.0,1233.1 61.2,1233.6 62.4,1233.2 63.6,1232.8 64.8,1233.1 66.0,1234.4 67.2,1234.1 68.4,1233.6 69.3,1232.9 70.8,1232.8 72.0,1232.3 73.2,1232.3 74.4,1232.7 75.6,1233.0 76.8,1232.8 78.0,1232.0 79.2,1231.5 80.4,1231.1 81.6,1231.1 82.8,1230.6 84.0,1230.2 84.9,1229.7 86.4,1229.4 87.6,1229.0 88.8,1228.7 90.0,1228.5 91.2,1228.0 92.4,1227.7 93.6,1226.9 94.8,1226.1 96.0,1225.2 96.6,1225.0 97.2,1224.8 98.4,1224.3 99.6,1223.7 100.8,1222.9 102.0,1221.8 103.2,1220.6 104.4,1219.8 105.6,1218.9 106.8,1217.6 108.3,1216.0 109.2,1215.1 110.4,1214.0 111.6,1212.6 112.8,1211.0 114.0,1209.4 115.2,1207.7 116.4,1205.9 117.6,1204.1 118.0,1203.5 118.8,1202.2 120.0,1200.2 121.2,1198.1 122.4,1195.9 123.6,1193.5 124.8,1191.1 125.8,1188.9 127.2,1185.6 128.4,1182.6 129.6,1179.3 130.8,1175.9 131.7,1173.3 133.2,1168.7 134.4,1164.8 135.6,1160.7 136.8,1156.4 137.5,1153.8 138.0,1151.9 139.2,1147.0 140.4,1141.9 141.6,1136.3 142.4,1132.4 142.8,1130.3 144.0,1123.8 145.2,1116.6 146.4,1109.0 147.3,1103.1 148.8,1092.3 150.0,1083.1 151.2,1073.9 152.4,1064.8 153.6,1055.7 155.1,1044.6 156.0,1037.9 157.2,1028.8 158.4,1020.6 159.0,1017.3 159.6,1014.2 160.8,1008.7 161.9,1005.6 163.2,1003.8 163.8,1003.6 164.4,1004.2 165.6,1005.8 166.8,1008.5 168.0,1013.0 169.2,1019.8 170.7,1029.0 171.6,1034.4 172.8,1042.1 174.0,1050.2 174.6,1054.4 175.2,1058.7 176.4,1067.8 177.6,1077.1 178.5,1083.6 180.0,1093.9 181.2,1101.8 182.4,1109.0 183.6,1115.6 184.8,1121.7 186.3,1128.5 187.2,1132.1 188.4,1136.6 189.6,1140.4 190.2,1142.1 190.8,1143.6 192.0,1146.3 193.2,1148.8 194.4,1151.0 195.6,1153.1 196.0,1153.8 196.8,1155.0 198.0,1156.7 199.2,1158.4 199.9,1159.7 200.4,1160.9 201.6,1164.5 202.8,1168.5 203.8,1171.4 205.2,1174.4 206.4,1176.6 207.7,1179.2 208.8,1181.9 210.0,1185.1 211.2,1188.0 211.6,1188.9 212.4,1190.5 213.6,1192.7 214.8,1194.8 216.0,1196.7 217.5,1198.7 218.4,1199.8 219.6,1201.4 220.8,1202.8 222.0,1203.7 223.3,1204.2 224.4,1204.7 225.6,1205.6 226.8,1206.2 228.0,1206.8 229.2,1206.9 230.4,1207.2 231.1,1207.3 231.6,1207.6 232.8,1207.8 234.0,1207.9 235.2,1208.2 236.4,1208.5 237.6,1209.3 238.8,1209.7 240.0,1210.1 240.9,1209.8 242.4,1209.5 243.6,1208.5 244.8,1208.4 246.0,1208.3 247.2,1208.7 248.7,1208.0 249.6,1207.7 250.8,1207.0 252.0,1206.3 253.2,1205.5 254.4,1204.9 255.6,1204.2 256.5,1203.3 258.0,1202.0 259.2,1201.1 260.4,1200.1 261.6,1198.9 262.8,1197.5 264.3,1195.7 265.2,1194.6 266.4,1193.2 267.6,1191.6 268.8,1190.0 270.0,1188.3 271.2,1186.5 272.1,1185.0 273.6,1182.2 274.8,1179.7 276.0,1177.1 277.2,1174.5 278.0,1172.9 278.4,1172.1 279.6,1169.9 280.8,1167.8 282.0,1165.7 283.2,1163.6 284.4,1161.4 285.6,1159.3 286.0,1158.5 286.8,1157.0 288.0,1154.5 289.2,1152.1 290.4,1149.6 291.6,1147.1 292.8,1144.7 294.0,1142.5 295.2,1140.4 296.4,1138.4 297.6,1136.4 298.8,1134.5 300.0,1132.6 301.2,1130.9 302.0,1129.7 302.4,1129.1 303.6,1127.4 304.8,1125.8 306.0,1124.2 307.2,1122.7 308.4,1121.2 309.6,1119.8 310.0,1119.2 310.8,1118.3 312.0,1117.0 313.2,1115.7 314.4,1114.4 315.6,1113.4 316.8,1112.4 318.0,1111.2 319.2,1110.0 320.4,1108.8 321.6,1107.5 322.8,1106.3 324.0,1105.3 325.2,1104.5 326.0,1104.1 326.4,1104.1 327.6,1103.5 328.8,1103.1 330.0,1102.6 331.2,1102.1 332.4,1101.3 333.6,1100.7 334.0,1100.2 334.8,1099.7 336.0,1099.0 337.2,1098.6 338.4,1098.0 339.6,1097.2 340.8,1096.4 342.0,1095.9 343.2,1095.8 344.4,1095.7 345.6,1095.2 346.8,1094.6 348.0,1094.1 349.2,1093.8 350.0,1093.2 350.4,1092.6 351.6,1092.6 352.8,1092.4 354.0,1092.2 355.2,1091.5 356.4,1091.8 357.6,1091.3 358.0,1091.2 358.8,1090.3 360.0,1090.1 361.2,1090.4 362.4,1090.5 363.6,1090.5 364.8,1090.1 366.0,1090.2 367.2,1089.0 368.4,1089.2 369.3,1089.3 370.8,1089.8 372.0,1089.1 373.2,1089.0 374.4,1089.6 375.6,1090.2 376.8,1090.6 378.0,1090.4 379.2,1090.6 380.4,1090.3 381.6,1090.4 382.0,1091.2 382.8,1091.9 384.0,1091.7 385.2,1090.8 386.4,1090.8 387.6,1091.3 388.8,1091.0 390.0,1089.9 391.2,1090.3 392.4,1091.3 393.6,1091.7 395.0,1091.3 396.0,1091.6 397.2,1091.9 398.4,1091.8 399.6,1092.1 400.8,1092.2 402.0,1092.0 403.2,1091.3 404.4,1091.5 405.6,1091.9 406.8,1092.1 407.7,1092.4 409.2,1091.9 410.4,1091.7 411.6,1092.3 412.8,1093.8 414.0,1094.0 415.2,1093.8 416.4,1094.2 417.6,1094.8 418.8,1095.0 420.0,1095.4 420.5,1095.7 421.2,1096.0 422.4,1095.9 423.6,1096.2 424.8,1096.1 426.0,1096.1 427.2,1096.8 428.4,1097.2 429.6,1097.6 430.0,1097.2 430.8,1097.5 432.0,1097.8 433.2,1098.1 434.4,1098.6 435.6,1099.2 436.8,1100.1 438.0,1100.1 439.2,1100.5 439.8,1101.1 440.4,1101.7 441.6,1101.5 442.8,1101.4 444.0,1101.8 445.2,1102.3 446.4,1102.6 447.6,1102.8 448.8,1103.4 449.4,1103.6 450.0,1103.7 451.2,1104.2 452.4,1104.9 453.6,1106.1 454.8,1106.6 456.0,1106.8 457.2,1106.7 458.4,1107.5 459.0,1107.9 459.6,1108.1 460.8,1109.2 462.0,1110.3 463.2,1111.6 464.4,1112.5 465.6,1113.2 467.0,1113.5 468.0,1113.3 469.2,1112.4 470.4,1111.2 471.6,1111.0 472.1,1111.6 472.8,1111.7 474.0,1112.0 475.2,1112.6 476.4,1113.2 477.6,1113.7 478.2,1113.7 478.8,1113.9 480.0,1115.0 481.2,1115.8 482.4,1116.5 483.6,1117.0 484.6,1117.4 486.0,1117.3 487.2,1118.0 488.4,1118.5 489.6,1118.6 490.8,1118.7 491.8,1118.7 493.2,1115.1 494.2,1110.5 495.8,1093.4 496.8,1082.2 497.3,1079.0 498.0,1077.4 498.5,1076.2 499.2,1077.6 499.8,1079.0 500.4,1086.5 501.3,1101.5 502.8,1106.9 504.0,1096.5 504.4,1090.0 505.2,1067.7 506.0,1040.0 506.4,1027.2 507.4,1000.0 508.4,988.8 508.8,991.7 509.6,1005.0 510.0,1012.7 511.0,1035.0 512.4,1061.0 513.6,1087.9 514.4,1101.5 514.8,1105.7 516.0,1115.4 516.5,1117.4 517.2,1117.2 518.4,1116.8 519.6,1116.8 520.8,1117.1 521.5,1117.3 522.0,1118.1 523.2,1119.3 524.4,1121.3 525.6,1123.2 526.8,1124.4 527.6,1124.3 528.0,1124.3 529.2,1123.3 530.4,1121.2 531.6,1120.0 532.8,1119.7 534.0,1118.9 535.2,1118.2 536.4,1117.6 537.7,1116.7 538.8,1110.9 539.7,1101.5 541.4,1061.0 542.5,1040.0 543.4,980.0 544.3,889.0 544.8,850.5 545.7,806.0 547.2,795.2 548.0,806.0 548.4,829.1 549.0,889.0 549.8,980.0 550.8,1050.0 551.9,1080.1 553.0,1050.0 554.0,980.0 554.4,958.6 555.9,904.8 556.8,950.9 557.3,980.0 558.0,1001.5 558.8,1020.0 559.2,1026.9 560.0,1040.8 560.4,1055.7 561.4,1101.5 562.8,1130.2 563.4,1138.0 564.0,1144.1 565.2,1153.6 566.1,1158.2 567.6,1163.5 568.8,1166.6 570.1,1168.7 571.2,1169.4 572.4,1169.6 573.6,1169.8 574.8,1170.2 575.2,1170.3 576.0,1169.3 577.2,1164.5 577.6,1162.3 578.4,1151.8 579.2,1138.0 579.6,1132.1 580.9,1115.7 582.1,1109.1 583.2,1115.3 583.7,1119.7 584.4,1128.5 585.3,1142.0 586.8,1161.9 587.3,1166.3 588.0,1170.7 589.4,1174.8 590.4,1174.7 591.6,1174.8 592.4,1175.2 592.8,1175.1 594.0,1178.0 595.4,1181.5 596.4,1182.8 597.6,1183.9 598.8,1184.5 600.0,1185.2 601.5,1186.6 602.4,1187.3 603.6,1188.7 604.8,1190.0 606.0,1191.4 607.2,1192.4 607.6,1192.5 608.4,1193.0 609.6,1193.7 610.8,1194.3 612.0,1194.8 613.2,1195.5 613.7,1195.7 614.4,1196.0 615.6,1196.4 616.8,1196.9 618.0,1197.3 619.2,1198.2 620.0,1198.8 620.4,1199.0 621.6,1200.1 622.8,1201.5 623.2,1201.7 624.0,1202.4 625.2,1202.7 626.4,1202.4 627.7,1202.0 628.8,1201.2 630.0,1200.2 631.5,1199.7 632.4,1200.2 633.6,1201.4 634.8,1203.1 636.0,1204.8 637.2,1205.2 638.4,1205.5 639.6,1206.3 640.8,1207.2 642.0,1208.2 643.1,1208.6 644.4,1208.9 645.6,1208.9 646.8,1208.7 648.0,1209.4 648.8,1209.8 649.2,1210.3 650.4,1210.6 651.6,1211.3 652.8,1211.9 654.0,1212.3 655.2,1211.9 656.4,1212.4 657.6,1212.8 658.8,1212.9 659.7,1212.3 661.2,1212.9 662.4,1213.9 662.9,1214.4 663.6,1214.7 664.8,1213.5 666.0,1213.2 667.4,1213.7 668.4,1214.6 669.6,1214.9 670.8,1215.5 671.9,1216.1 673.2,1216.4 674.4,1216.4 675.1,1216.7 675.6,1216.3 676.8,1216.7 678.0,1217.3 679.2,1217.4 679.6,1217.2 680.4,1217.1 681.6,1217.4 682.8,1216.6 684.0,1216.6 685.2,1216.8 686.0,1217.7 686.4,1218.0 687.6,1218.7 688.8,1219.6 690.0,1220.5 690.5,1220.9 691.2,1220.9 692.4,1220.7 693.6,1220.3 694.3,1219.3 694.8,1218.4 696.0,1219.0 697.2,1219.6 697.6,1219.9" fill="none" stroke="#000" stroke-width="3.8" stroke-linejoin="round" stroke-linecap="butt"/>
<polyline points="46.8,1235.4 48.0,1235.5 49.2,1235.3 50.4,1234.6 51.6,1234.6 52.8,1235.2 54.0,1235.5 55.2,1235.4 56.4,1235.3 57.6,1236.0 58.8,1236.0 60.0,1235.9 61.2,1235.5 62.4,1235.5 63.6,1235.5 64.8,1235.2 66.0,1235.1 67.2,1235.2 68.4,1235.3 69.6,1235.4 70.8,1235.6 72.0,1235.2 73.2,1234.8 74.4,1234.6 75.6,1234.7 76.8,1234.9 78.0,1235.1 79.0,1235.2 80.4,1234.8 81.6,1234.5 82.8,1234.1 84.0,1233.9 85.2,1234.2 86.4,1234.3 87.6,1233.8 88.8,1233.0 90.0,1232.5 91.2,1232.2 92.4,1232.4 93.6,1232.6 94.6,1232.5 96.0,1231.9 97.2,1231.5 98.4,1231.4 99.6,1230.9 100.8,1230.5 102.0,1230.2 103.2,1229.8 104.4,1229.1 105.6,1228.9 106.3,1229.0 106.8,1229.0 108.0,1228.5 109.2,1227.9 110.4,1227.8 111.6,1227.7 112.8,1227.1 114.0,1226.2 115.2,1225.7 116.4,1225.2 117.6,1224.3 118.0,1223.9 118.8,1223.4 120.0,1222.6 121.2,1221.5 122.4,1220.2 123.6,1218.8 124.8,1217.4 126.0,1215.9 127.2,1214.5 127.8,1213.8 128.4,1213.0 129.6,1211.4 130.8,1209.8 132.0,1208.0 133.2,1206.1 134.4,1204.2 135.6,1202.1 136.8,1199.9 138.0,1197.5 139.2,1194.9 140.4,1192.2 141.4,1189.9 142.8,1186.3 144.0,1183.0 145.2,1179.5 146.3,1176.0 147.6,1171.5 148.8,1166.9 150.0,1162.1 151.2,1157.2 152.4,1152.1 153.6,1146.9 155.1,1140.6 156.0,1137.0 157.2,1132.4 158.4,1128.0 159.0,1126.0 159.6,1124.1 160.8,1120.2 162.0,1116.9 162.9,1115.3 164.4,1113.4 165.8,1112.1 166.8,1113.5 168.0,1116.0 168.7,1117.6 169.2,1118.9 170.4,1122.8 171.6,1127.3 172.6,1131.0 174.0,1135.7 175.2,1139.8 176.5,1144.3 177.6,1148.1 178.8,1152.3 180.0,1156.3 180.4,1157.6 181.2,1160.1 182.4,1163.7 183.6,1167.1 184.3,1168.9 184.8,1170.2 186.0,1173.1 187.2,1175.7 188.2,1177.3 189.6,1179.1 190.8,1180.3 192.0,1181.5 193.2,1182.4 194.1,1183.1 195.6,1184.2 196.8,1185.0 198.0,1185.6 199.2,1186.2 200.4,1186.9 201.9,1187.6 202.8,1188.1 204.0,1188.7 205.2,1189.4 206.4,1190.1 207.6,1190.5 208.8,1191.0 209.7,1191.5 211.2,1192.8 212.4,1193.3 213.6,1193.9 214.8,1194.2 215.5,1194.4 216.0,1194.1 217.2,1193.9 218.4,1194.4 219.6,1194.9 220.4,1195.2 220.8,1194.9 222.0,1194.2 223.2,1193.4 224.3,1192.6 225.6,1190.5 226.8,1188.0 228.2,1185.6 229.2,1184.5 230.4,1183.3 231.6,1182.6 232.1,1182.8 232.8,1182.9 234.0,1182.8 235.2,1182.5 236.4,1182.4 237.0,1182.4 237.6,1182.7 238.8,1183.2 240.0,1183.7 241.2,1184.0 242.4,1184.3 242.8,1184.4 243.6,1184.4 244.8,1184.9 246.0,1185.2 247.2,1185.8 247.7,1185.9 248.4,1186.0 249.6,1185.5 250.8,1184.8 252.0,1184.5 253.2,1184.6 254.5,1184.3 255.6,1183.6 256.8,1183.5 258.0,1183.6 259.2,1183.9 260.4,1183.6 261.6,1183.4 262.3,1182.9 262.8,1182.5 264.0,1181.8 265.2,1180.9 266.4,1180.8 267.6,1180.9 268.8,1180.8 270.1,1180.1 271.2,1179.3 272.4,1178.6 273.6,1177.7 274.8,1176.8 276.0,1175.6 277.2,1174.3 278.4,1172.8 279.6,1171.3 280.8,1170.0 281.8,1169.0 283.2,1168.2 284.4,1167.7 285.6,1166.8 286.0,1166.4 286.8,1165.9 288.0,1165.1 289.2,1164.1 290.4,1162.9 291.6,1161.5 292.8,1160.1 294.0,1158.7 295.2,1157.5 296.4,1156.3 297.6,1155.2 298.8,1154.0 300.0,1152.8 301.2,1151.6 302.0,1151.0 302.4,1150.8 303.6,1149.6 304.8,1148.5 306.0,1147.4 307.2,1146.6 308.4,1145.8 309.6,1144.9 310.0,1144.7 310.8,1144.2 312.0,1143.5 313.2,1142.5 314.4,1141.8 315.6,1141.1 316.8,1140.5 318.0,1140.0 319.2,1139.5 320.4,1138.8 321.6,1138.0 322.8,1137.6 324.0,1137.2 325.2,1137.0 326.0,1136.7 326.4,1137.0 327.6,1136.6 328.8,1135.7 330.0,1134.8 331.2,1134.8 332.4,1135.3 333.6,1135.6 334.0,1135.5 334.8,1135.3 336.0,1134.7 337.2,1134.2 338.4,1133.7 339.6,1133.9 340.8,1134.3 342.0,1134.5 343.2,1134.2 344.4,1133.7 345.6,1133.4 346.9,1133.3 348.0,1133.8 349.2,1134.3 350.4,1134.8 351.6,1135.3 352.8,1135.9 353.3,1135.8 354.0,1136.1 355.2,1136.4 356.4,1136.7 357.6,1136.7 358.8,1137.0 360.0,1137.3 361.2,1137.6 362.4,1138.1 363.6,1138.3 364.8,1138.0 366.1,1138.2 367.2,1138.8 368.4,1139.5 369.6,1139.7 370.8,1139.9 372.0,1140.0 373.2,1139.9 374.4,1140.2 375.6,1140.6 376.8,1141.0 378.0,1141.1 379.2,1141.4 380.4,1142.0 381.6,1142.4 382.1,1142.8 382.8,1143.1 384.0,1143.5 385.2,1143.3 386.4,1143.3 387.6,1143.6 388.8,1144.1 390.0,1144.5 391.2,1144.7 392.4,1144.9 393.6,1145.1 394.8,1145.6 396.0,1146.0 397.2,1146.2 398.1,1146.6 399.6,1147.1 400.8,1147.5 402.0,1147.7 403.2,1147.9 404.4,1147.9 405.6,1148.3 406.8,1148.7 408.0,1149.0 409.2,1148.9 410.4,1148.7 411.6,1148.5 412.8,1148.9 414.1,1149.2 415.2,1149.7 416.4,1150.1 417.6,1150.4 418.8,1150.8 420.0,1151.2 421.2,1151.3 422.4,1151.7 423.6,1152.3 424.8,1152.5 426.0,1152.1 427.2,1152.5 428.4,1153.0 429.6,1152.9 430.2,1152.6 430.8,1152.6 432.0,1153.4 433.2,1153.4 434.4,1153.5 435.6,1154.0 436.8,1154.7 438.0,1154.7 439.2,1154.5 440.4,1154.5 441.6,1155.0 442.8,1154.7 444.0,1155.0 445.2,1155.4 446.2,1156.3 447.6,1156.2 448.8,1156.3 450.0,1156.3 451.2,1156.8 452.4,1157.3 453.6,1158.1 454.8,1158.6 456.0,1158.4 457.2,1158.3 458.4,1158.6 459.0,1159.3 459.6,1159.6 460.8,1159.8 462.0,1159.8 463.2,1160.3 464.4,1160.8 465.6,1161.1 466.8,1161.1 468.0,1161.6 469.2,1162.1 470.2,1162.4 471.6,1161.2 472.8,1160.0 474.0,1158.9 475.3,1158.3 476.4,1158.9 477.6,1159.9 478.8,1160.9 479.8,1161.1 481.2,1162.0 482.4,1162.5 483.6,1162.8 484.6,1163.0 486.0,1163.0 487.2,1162.4 488.4,1161.7 489.6,1162.0 490.8,1162.4 492.0,1162.5 493.4,1161.8 494.4,1157.4 495.0,1152.3 495.6,1143.7 496.6,1126.7 498.0,1115.0 499.2,1113.9 500.6,1122.8 501.6,1134.9 502.5,1143.1 504.0,1145.6 505.3,1107.0 506.7,1047.0 507.6,1023.9 508.4,1014.1 508.8,1017.2 509.8,1037.8 511.4,1088.4 512.4,1113.4 513.4,1130.9 514.8,1143.7 516.0,1150.2 516.5,1151.3 517.2,1151.9 518.5,1152.4 519.6,1150.6 521.1,1148.2 522.0,1148.8 523.2,1150.9 524.6,1153.0 525.6,1154.3 526.8,1155.6 528.2,1156.5 529.2,1155.2 530.4,1152.5 531.6,1150.1 532.8,1148.9 534.0,1148.0 535.2,1147.3 536.7,1146.1 537.6,1145.3 538.8,1144.4 539.7,1143.1 541.2,1121.3 542.4,1060.5 543.4,979.5 544.3,888.5 544.8,849.8 545.7,805.5 547.2,796.9 548.0,805.5 548.4,828.1 549.0,888.5 549.8,979.5 550.8,1049.5 551.9,1088.1 553.0,1049.5 554.0,979.5 554.4,959.8 555.9,913.1 556.8,951.3 557.3,979.5 558.0,1007.8 558.6,1029.5 559.2,1047.7 559.6,1060.5 560.4,1097.2 561.0,1121.3 561.6,1136.6 563.0,1160.8 564.0,1170.6 565.2,1179.1 566.1,1183.1 567.6,1187.3 568.8,1189.6 570.1,1191.2 571.2,1192.1 572.4,1193.1 573.6,1193.9 574.8,1193.9 575.2,1193.5 576.0,1192.8 577.2,1188.9 577.6,1187.1 578.4,1176.3 579.2,1160.8 579.6,1153.5 580.9,1132.4 582.1,1125.4 583.2,1131.9 583.7,1136.5 584.4,1146.1 585.3,1160.8 586.8,1181.1 587.3,1185.1 588.0,1188.6 589.4,1192.1 590.4,1192.4 591.6,1192.4 593.0,1191.9 594.0,1193.4 595.2,1196.6 596.5,1199.3 597.6,1199.9 598.8,1200.7 600.0,1201.4 601.5,1202.2 602.4,1202.8 603.6,1203.9 604.8,1205.0 606.0,1206.0 607.2,1206.8 607.6,1206.9 608.4,1207.6 609.6,1208.6 610.8,1209.7 612.0,1210.6 613.2,1211.3 613.7,1211.8 614.4,1212.1 615.6,1212.5 616.8,1212.4 618.0,1212.6 619.2,1212.5 620.0,1212.8 620.4,1213.2 621.6,1213.8 622.8,1213.7 624.0,1213.5 625.2,1213.3 626.4,1213.5 627.7,1213.7 628.8,1213.2 630.0,1212.3 631.5,1211.5 632.4,1212.2 633.6,1213.1 634.8,1214.3 636.0,1215.5 637.3,1216.8 638.4,1217.2 639.6,1217.4 640.8,1217.5 642.0,1218.0 643.2,1218.3 644.4,1218.6 645.6,1218.9 646.9,1219.2 648.0,1219.1 649.2,1219.0 650.4,1219.8 651.6,1220.4 652.8,1220.3 654.0,1220.3 655.2,1220.6 656.4,1221.1 657.6,1220.9 658.8,1220.9 659.7,1220.9 661.2,1221.7 662.4,1221.9 663.6,1222.0 664.8,1221.8 666.0,1222.2 667.2,1222.7 668.4,1223.2 669.6,1223.3 670.8,1223.7 672.0,1223.6 673.2,1223.8 674.4,1223.9 675.1,1223.9 675.6,1224.1 676.8,1224.2 678.0,1224.4 679.2,1224.6 680.4,1225.1 681.6,1225.2 682.8,1225.5 684.0,1225.6 685.2,1225.9 686.4,1226.2 687.6,1226.5 688.5,1226.1 690.0,1225.5 691.2,1225.2 692.4,1225.0 693.6,1225.3 694.8,1225.8 696.0,1225.6 697.2,1225.4 697.6,1225.2" fill="none" stroke="#da2822" stroke-width="3.8" stroke-linejoin="round"/>
<polyline points="46.8,1235.4 48.0,1235.5 49.2,1235.3 50.4,1234.6 51.6,1234.6 52.8,1235.2 54.0,1235.5 55.2,1235.4 56.4,1235.3 57.6,1236.0 58.8,1236.0 60.0,1235.9 61.2,1235.5 62.4,1235.5 63.6,1235.5 64.8,1235.2 66.0,1235.1 67.2,1235.2 68.4,1235.3 69.6,1235.4 70.8,1235.6 72.0,1235.2 73.2,1234.8 74.4,1234.6 75.6,1234.7 76.8,1234.9 78.0,1235.1 79.0,1235.2 80.4,1234.8 81.6,1234.5 82.8,1234.1 84.0,1233.9 85.2,1234.2 86.4,1234.3 87.6,1233.8 88.8,1233.0 90.0,1232.5 91.2,1232.2 92.4,1232.4 93.6,1232.6 94.6,1232.5 96.0,1231.9 97.2,1231.5 98.4,1231.4 99.6,1230.9 100.8,1230.5 102.0,1230.2 103.2,1229.8 104.4,1229.1 105.6,1228.9 106.3,1229.0 106.8,1229.0 108.0,1228.5 109.2,1227.8 110.4,1227.8 111.6,1227.6 112.8,1227.0 114.0,1226.2 115.2,1225.6 116.4,1225.1 117.6,1224.3 118.0,1223.9 118.8,1223.5 120.0,1222.9 121.2,1222.0 122.4,1221.0 123.6,1219.9 124.8,1218.8 126.0,1217.7 127.2,1216.7 127.8,1216.3 128.4,1215.7 129.6,1214.5 130.8,1213.0 132.0,1211.5 133.2,1209.9 134.4,1208.3 135.6,1206.5 136.8,1204.6 138.0,1202.5 139.2,1200.2 140.4,1197.8 141.4,1195.7 142.8,1192.5 144.0,1189.5 145.2,1186.3 146.3,1183.1 147.6,1178.9 148.8,1174.6 150.0,1170.1 151.2,1165.5 152.4,1160.7 153.6,1155.8 155.1,1149.9 156.0,1146.5 157.2,1142.2 158.4,1138.1 159.0,1136.3 159.6,1134.5 160.8,1130.9 162.0,1127.9 162.9,1126.5 164.4,1125.1 165.8,1124.0 166.8,1125.2 168.0,1127.2 168.7,1128.5 169.2,1129.6 170.4,1133.0 171.6,1137.0 172.6,1140.2 174.0,1144.4 175.2,1148.0 176.5,1151.9 177.6,1155.3 178.8,1159.0 180.0,1162.5 180.4,1163.6 181.2,1165.8 182.4,1168.9 183.6,1171.8 184.3,1173.3 184.8,1174.3 186.0,1176.7 187.2,1178.7 188.2,1180.0 189.6,1181.4 190.8,1182.5 192.0,1183.4 193.2,1184.2 194.1,1184.9 195.6,1185.9 196.8,1186.5 198.0,1187.1 199.2,1187.6 200.4,1188.2 201.9,1188.9 202.8,1189.3 204.0,1189.8 205.2,1190.5 206.4,1191.1 207.6,1191.4 208.8,1191.7 209.7,1192.2 211.2,1193.4 212.4,1193.9 213.6,1194.4 214.8,1194.6 215.5,1194.8 216.0,1194.5 217.2,1194.3 218.4,1194.7 219.6,1195.1 220.4,1195.2 220.8,1194.7 222.0,1193.2 223.2,1191.5 224.3,1189.9 225.6,1187.6 226.8,1185.3 228.2,1183.1 229.2,1182.0 230.4,1180.8 231.6,1180.1 232.1,1180.3 232.8,1180.4 234.0,1180.3 235.2,1180.0 236.4,1179.9 237.0,1179.9 237.6,1180.2 238.8,1180.7 240.0,1181.2 241.2,1181.5 242.4,1181.8 242.8,1181.9 243.6,1181.9 244.8,1182.4 246.0,1182.7 247.2,1183.3 247.7,1183.4 248.4,1183.5 249.6,1183.0 250.8,1182.3 252.0,1182.0 253.2,1182.1 254.5,1181.8 255.6,1181.1 256.8,1181.0 258.0,1181.1 259.2,1181.3 260.4,1181.1 261.6,1180.9 262.3,1180.4 262.8,1180.1 264.0,1179.4 265.2,1178.6 266.4,1178.5 267.6,1178.9 268.8,1178.9 270.1,1178.4 271.2,1177.6 272.4,1177.1 273.6,1176.3 274.8,1175.6 276.0,1174.4 277.2,1173.2 278.4,1171.8 279.6,1170.5 280.8,1169.2 281.8,1168.3 283.2,1167.7 284.4,1167.3 285.6,1166.5 286.0,1166.1 286.8,1165.7 288.0,1165.0 289.2,1164.1 290.4,1163.0 291.6,1161.8 292.8,1160.5 294.0,1159.2 295.2,1158.0 296.4,1156.9 297.6,1156.0 298.8,1154.9 300.0,1153.8 301.2,1152.7 302.0,1152.2 302.4,1152.0 303.6,1151.0 304.8,1149.9 306.0,1148.8 307.2,1148.2 308.4,1147.6 309.6,1146.7 310.0,1146.6 310.8,1146.2 312.0,1145.5 313.2,1144.6 314.4,1144.0 315.6,1143.4 316.8,1142.9 318.0,1142.5 319.2,1142.1 320.4,1141.5 321.6,1140.8 322.8,1140.4 324.0,1140.2 325.2,1140.1 326.0,1139.9 326.4,1140.3 327.6,1140.0 328.8,1139.3 330.0,1138.4 331.2,1138.6 332.4,1139.3 333.6,1139.6 334.0,1139.5 334.8,1139.3 336.0,1138.7 337.2,1138.2 338.4,1137.7 339.6,1137.9 340.8,1138.3 342.0,1138.5 343.2,1138.2 344.4,1137.7 345.6,1137.4 346.9,1137.3 348.0,1137.8 349.2,1138.3 350.4,1138.8 351.6,1139.3 352.8,1139.9 353.3,1139.8 354.0,1140.1 355.2,1140.4 356.4,1140.7 357.6,1140.7 358.8,1141.0 360.0,1141.3 361.2,1141.6 362.4,1142.1 363.6,1142.3 364.8,1142.0 366.1,1142.2 367.2,1142.8 368.4,1143.5 369.6,1143.7 370.8,1143.9 372.0,1144.0 373.2,1143.9 374.4,1144.2 375.6,1144.6 376.8,1145.0 378.0,1145.1 379.2,1145.4 380.4,1146.0 381.6,1146.4 382.1,1146.8 382.8,1147.1 384.0,1147.5 385.2,1147.3 386.4,1147.3 387.6,1147.6 388.8,1148.1 390.0,1148.5 391.2,1148.7 392.4,1148.9 393.6,1149.1 394.8,1149.6 396.0,1150.0 397.2,1150.2 398.1,1150.6 399.6,1151.1 400.8,1151.5 402.0,1151.7 403.2,1151.9 404.4,1151.9 405.6,1152.3 406.8,1152.7 408.0,1153.0 409.2,1152.9 410.4,1152.7 411.6,1152.5 412.8,1152.9 414.1,1153.2 415.2,1153.7 416.4,1154.1 417.6,1154.4 418.8,1154.8 420.0,1155.2 421.2,1155.3 422.4,1155.7 423.6,1156.3 424.8,1156.5 426.0,1156.1 427.2,1156.5 428.4,1157.0 429.6,1156.9 430.2,1156.6 430.8,1156.6 432.0,1157.4 433.2,1157.4 434.4,1157.5 435.6,1158.0 436.8,1158.7 438.0,1158.7 439.2,1158.5 440.4,1158.5 441.6,1159.0 442.8,1158.7 444.0,1159.0 445.2,1159.4 446.2,1160.3 447.6,1160.2 448.8,1160.3 450.0,1160.3 451.2,1160.8 452.4,1161.3 453.6,1162.1 454.8,1162.6 456.0,1162.4 457.2,1162.3 458.4,1162.6 459.0,1163.3 459.6,1163.6 460.8,1163.8 462.0,1163.8 463.2,1164.3 464.4,1164.8 465.6,1165.1 466.8,1165.1 468.0,1165.6 469.2,1166.1 470.2,1166.4 471.6,1165.2 472.8,1164.0 474.0,1162.9 475.3,1162.3 476.4,1162.9 477.6,1163.9 478.8,1164.9 479.8,1165.1 481.2,1166.0 482.4,1166.5 483.6,1166.8 484.6,1167.0 486.0,1167.0 487.2,1166.4 488.4,1165.7 489.6,1166.0 490.8,1166.4 492.0,1166.5 493.4,1165.8 494.4,1160.9 495.0,1155.3 495.6,1146.5 496.6,1129.7 498.0,1118.0 499.2,1116.9 500.6,1125.8 501.6,1137.9 502.5,1146.1 504.0,1148.6 505.3,1110.0 506.7,1050.0 507.6,1026.9 508.4,1017.1 508.8,1020.2 509.8,1040.8 511.4,1091.4 512.4,1116.4 513.4,1133.9 514.8,1146.7 516.0,1153.2 516.5,1154.3 517.2,1154.9 518.5,1155.4 519.6,1153.6 521.1,1151.2 522.0,1151.8 523.2,1153.9 524.6,1156.0 525.6,1157.3 526.8,1158.6 528.2,1159.5 529.2,1158.2 530.4,1155.5 531.6,1153.1 532.8,1151.9 534.0,1151.0 535.2,1150.3 536.7,1149.1 537.6,1148.3 538.8,1147.5 539.7,1146.1 541.2,1121.8 542.4,1061.0 543.4,980.0 544.3,889.0 544.8,850.3 545.7,806.0 547.2,797.4 548.0,806.0 548.4,828.6 549.0,889.0 549.8,980.0 550.8,1050.0 551.9,1088.6 553.0,1050.0 554.0,980.0 554.4,960.3 555.9,913.6 556.8,951.8 557.3,980.0 558.0,1008.3 558.6,1030.0 559.2,1048.2 559.6,1061.0 560.4,1097.6 561.0,1121.8 561.6,1137.5 563.0,1162.3 564.0,1172.1 565.2,1180.6 566.1,1184.6 567.6,1188.8 568.8,1191.1 570.1,1192.7 571.2,1193.6 572.4,1194.6 573.6,1195.4 574.8,1195.4 575.2,1195.0 576.0,1194.3 577.2,1190.4 577.6,1188.6 578.4,1177.8 579.2,1162.3 579.6,1155.0 580.9,1133.9 582.1,1126.9 583.2,1133.4 583.7,1138.0 584.4,1147.6 585.3,1162.3 586.8,1182.6 587.3,1186.6 588.0,1190.1 589.4,1193.6 590.4,1193.9 591.6,1193.9 593.0,1193.4 594.0,1194.9 595.2,1198.1 596.5,1200.8 597.6,1201.4 598.8,1202.2 600.0,1202.9 601.5,1203.7 602.4,1204.3 603.6,1205.4 604.8,1206.5 606.0,1207.5 607.2,1208.3 607.6,1208.4 608.4,1209.1 609.6,1210.1 610.8,1211.2 612.0,1212.1 613.2,1212.8 613.7,1213.3 614.4,1213.6 615.6,1214.0 616.8,1213.9 618.0,1214.1 619.2,1214.0 620.0,1214.3 620.4,1214.7 621.6,1215.3 622.8,1215.2 624.0,1215.0 625.2,1214.8 626.4,1215.0 627.7,1215.2 628.8,1214.7 630.0,1213.8 631.5,1213.0 632.4,1213.7 633.6,1214.6 634.8,1215.8 636.0,1217.0 637.3,1218.3 638.4,1218.7 639.6,1218.9 640.8,1219.0 642.0,1219.5 643.2,1219.8 644.4,1220.1 645.6,1220.4 646.9,1220.7 648.0,1220.6 649.2,1220.5 650.4,1221.3 651.6,1221.9 652.8,1221.8 654.0,1221.8 655.2,1222.1 656.4,1222.6 657.6,1222.4 658.8,1222.4 659.7,1222.4 661.2,1223.2 662.4,1223.4 663.6,1223.5 664.8,1223.3 666.0,1223.7 667.2,1224.2 668.4,1224.7 669.6,1224.8 670.8,1225.2 672.0,1225.1 673.2,1225.3 674.4,1225.4 675.1,1225.4 675.6,1225.6 676.8,1225.7 678.0,1225.9 679.2,1226.1 680.4,1226.6 681.6,1226.7 682.8,1227.0 684.0,1227.1 685.2,1227.4 686.4,1227.7 687.6,1228.0 688.5,1227.6 690.0,1227.0 691.2,1226.7 692.4,1226.5 693.6,1226.8 694.8,1227.3 696.0,1227.1 697.2,1226.9 697.6,1226.7" fill="none" stroke="#2a4fa8" stroke-width="3.8" stroke-linejoin="round"/>
<text transform="scale(1,1.03)" y="738.93"><tspan class="i" x="94">R</tspan><tspan class="i sub" dy="7.38">a</tspan><tspan dy="-7.38">(</tspan><tspan class="i">x</tspan><tspan dx="-2.2"> = 0) = 86</tspan></text>
<text transform="scale(1,1.03)" class="bl" y="792.91"><tspan class="i" x="94">R</tspan><tspan class="i sub" dy="7.38">a</tspan><tspan dy="-7.38">(</tspan><tspan class="i">x</tspan><tspan dx="-2.2"> = 1) = 95.2</tspan></text>
<text transform="scale(1,1.03)" class="r" y="843.69"><tspan class="i" x="94">R</tspan><tspan class="i sub" dy="7.38">a</tspan><tspan dy="-7.38">(</tspan><tspan class="i">x</tspan><tspan dx="-2.2"> = 0.9) = 95.7</tspan></text>
<text transform="scale(1,1.03)" x="352" y="1052.62"><tspan class="i">x</tspan> = 0</text>
<text transform="scale(1,1.03)" class="r" x="347.3" y="1093.69"><tspan class="i">x</tspan> = 0.9</text>
<text transform="scale(1,1.03)" class="bl" x="349.5" y="1145.63"><tspan class="i">x</tspan> = 1</text>
<rect class="ax" x="887.4" y="728.4" width="632.5" height="510.0"/>
<line class="ax" x1="918.7" y1="1238.4" x2="918.7" y2="1248.6000000000001"/><text transform="scale(1,1.03)" x="918.7" y="1244.66" text-anchor="middle">0.0</text><line class="ax" x1="1013.7" y1="1238.4" x2="1013.7" y2="1248.6000000000001"/><text transform="scale(1,1.03)" x="1013.7" y="1244.66" text-anchor="middle">0.3</text><line class="ax" x1="1108.7" y1="1238.4" x2="1108.7" y2="1248.6000000000001"/><text transform="scale(1,1.03)" x="1108.7" y="1244.66" text-anchor="middle">0.6</text><line class="ax" x1="1203.7" y1="1238.4" x2="1203.7" y2="1248.6000000000001"/><text transform="scale(1,1.03)" x="1203.7" y="1244.66" text-anchor="middle">0.9</text><line class="ax" x1="1298.7" y1="1238.4" x2="1298.7" y2="1248.6000000000001"/><text transform="scale(1,1.03)" x="1298.7" y="1244.66" text-anchor="middle">1.2</text><line class="ax" x1="1393.8" y1="1238.4" x2="1393.8" y2="1248.6000000000001"/><text transform="scale(1,1.03)" x="1393.8" y="1244.66" text-anchor="middle">1.5</text><line class="ax" x1="1488.8" y1="1238.4" x2="1488.8" y2="1248.6000000000001"/><text transform="scale(1,1.03)" x="1488.8" y="1244.66" text-anchor="middle">1.8</text><line class="ax" x1="966.2" y1="1238.4" x2="966.2" y2="1243.2"/><line class="ax" x1="1061.2" y1="1238.4" x2="1061.2" y2="1243.2"/><line class="ax" x1="1156.2" y1="1238.4" x2="1156.2" y2="1243.2"/><line class="ax" x1="1251.2" y1="1238.4" x2="1251.2" y2="1243.2"/><line class="ax" x1="1346.2" y1="1238.4" x2="1346.2" y2="1243.2"/><line class="ax" x1="1441.3" y1="1238.4" x2="1441.3" y2="1243.2"/><line class="ax" x1="887.4" y1="728.4" x2="877.2" y2="728.4"/><text transform="scale(1,1.03)" x="865" y="717.18" text-anchor="end">100</text><line class="ax" x1="887.4" y1="801.3" x2="877.2" y2="801.3"/><text transform="scale(1,1.03)" x="865" y="787.96" text-anchor="end">95</text><line class="ax" x1="887.4" y1="874.1" x2="877.2" y2="874.1"/><text transform="scale(1,1.03)" x="865" y="858.64" text-anchor="end">90</text><line class="ax" x1="887.4" y1="947.0" x2="877.2" y2="947.0"/><text transform="scale(1,1.03)" x="865" y="929.42" text-anchor="end">85</text><line class="ax" x1="887.4" y1="1019.8" x2="877.2" y2="1019.8"/><text transform="scale(1,1.03)" x="865" y="1000.10" text-anchor="end">80</text><line class="ax" x1="887.4" y1="1092.7" x2="877.2" y2="1092.7"/><text transform="scale(1,1.03)" x="865" y="1070.87" text-anchor="end">75</text><line class="ax" x1="887.4" y1="1165.5" x2="877.2" y2="1165.5"/><text transform="scale(1,1.03)" x="865" y="1141.55" text-anchor="end">70</text><line class="ax" x1="887.4" y1="1238.4" x2="877.2" y2="1238.4"/><text transform="scale(1,1.03)" x="865" y="1212.33" text-anchor="end">65</text><line class="ax" x1="887.4" y1="764.8" x2="882.6" y2="764.8"/><line class="ax" x1="887.4" y1="837.7" x2="882.6" y2="837.7"/><line class="ax" x1="887.4" y1="910.5" x2="882.6" y2="910.5"/><line class="ax" x1="887.4" y1="983.4" x2="882.6" y2="983.4"/><line class="ax" x1="887.4" y1="1056.3" x2="882.6" y2="1056.3"/><line class="ax" x1="887.4" y1="1129.1" x2="882.6" y2="1129.1"/><line class="ax" x1="887.4" y1="1202.0" x2="882.6" y2="1202.0"/>
<text transform="scale(1,1.03)" class="i" x="1198.5" y="1280.29" text-anchor="middle">x</text>
<text transform="translate(789.8,1002.7) rotate(-90) scale(1,1.03)"><tspan class="i">R</tspan><tspan class="i sub" dy="8.74">a</tspan></text>
<line x1="889.9" y1="789.4" x2="1204" y2="789.4" stroke="#6ab82e" stroke-width="3.2" stroke-dasharray="9 15.2" stroke-linecap="round" stroke-dashoffset="-1"/>
<line x1="889.9" y1="800.2" x2="1240" y2="800.2" stroke="#6ab82e" stroke-width="3.2" stroke-dasharray="9 15.2" stroke-linecap="round" stroke-dashoffset="-1"/>
<circle cx="919.1" cy="931.9" r="12.4" fill="#da2822"/>
<circle cx="950.9" cy="918.8" r="12.4" fill="#da2822"/>
<circle cx="982.4" cy="902.9" r="12.4" fill="#da2822"/>
<circle cx="1013.7" cy="885.5" r="12.4" fill="#da2822"/>
<circle cx="1045.7" cy="867.6" r="12.4" fill="#da2822"/>
<circle cx="1077.2" cy="847.8" r="12.4" fill="#da2822"/>
<circle cx="1108.8" cy="825.5" r="12.4" fill="#da2822"/>
<circle cx="1140.5" cy="805.6" r="12.4" fill="#da2822"/>
<circle cx="1171.7" cy="792.7" r="12.4" fill="#da2822"/>
<circle cx="1203.3" cy="790.7" r="12.4" fill="#da2822"/>
<circle cx="1235.3" cy="797.9" r="12.4" fill="#da2822"/>
<circle cx="1266.8" cy="815.3" r="12.4" fill="#da2822"/>
<circle cx="1298.6" cy="846.0" r="12.4" fill="#da2822"/>
<circle cx="1330.1" cy="884.2" r="12.4" fill="#da2822"/>
<circle cx="1362.2" cy="927.5" r="12.4" fill="#da2822"/>
<circle cx="1393.2" cy="980.0" r="12.4" fill="#da2822"/>
<circle cx="1425.1" cy="1041.5" r="12.4" fill="#da2822"/>
<circle cx="1456.9" cy="1117.0" r="12.4" fill="#da2822"/>
<circle cx="1488.7" cy="1211.8" r="12.4" fill="#da2822"/>
<polyline points="919.1,929.2 926.3,928.4 933.5,927.0 940.7,925.1 947.9,922.8 955.2,920.1 962.4,916.9 969.6,913.5 976.8,909.7 984.0,905.6 991.2,901.3 998.4,896.8 1005.6,892.1 1012.8,887.3 1020.0,882.3 1027.3,877.2 1034.5,872.1 1041.7,867.0 1048.9,861.8 1056.1,856.7 1063.3,851.6 1070.5,846.6 1077.7,841.8 1084.9,837.0 1092.1,832.4 1099.4,827.9 1106.6,823.7 1113.8,819.6 1121.0,815.8 1128.2,812.3 1135.4,809.0 1142.6,806.0 1149.8,803.4 1157.0,801.0 1164.2,799.1 1171.5,797.4 1178.7,796.2 1185.9,795.4 1193.1,794.9 1200.3,794.9 1207.5,795.3 1214.7,796.2 1221.9,797.5 1229.1,799.3 1236.3,801.6 1243.6,804.3 1250.8,807.6 1258.0,811.3 1265.2,815.6 1272.4,820.3 1279.6,825.6 1286.8,831.5 1294.0,837.8 1301.2,844.7 1308.4,852.1 1315.7,860.1 1322.9,868.6 1330.1,877.6 1337.3,887.2 1344.5,897.4 1351.7,908.0 1358.9,919.3 1366.1,931.0 1373.3,943.3 1380.5,956.1 1387.8,969.4 1395.0,983.3 1402.2,997.7 1409.4,1012.5 1416.6,1027.9 1423.8,1043.8 1431.0,1060.1 1438.2,1076.9 1445.4,1094.2 1452.6,1111.9 1459.9,1130.1 1467.1,1148.7 1474.3,1167.7 1481.5,1187.1 1488.7,1206.9" fill="none" stroke="#2a4fa8" stroke-width="3" stroke-linejoin="round"/>
<line x1="1202" y1="1044.9" x2="1202" y2="818" stroke="#000" stroke-width="2.6"/>
<polygon points="1202,807.6 1206.8,822.2 1197.2,822.2" fill="#000"/>
<text transform="scale(1,1.03)" style="font-size:24.8px" y="748.25"><tspan class="i" x="894.5">R</tspan><tspan class="i" style="font-size:18px" dy="6.41">a</tspan><tspan dy="-6.41">(theoretical max) = 95.7</tspan></text>
<text transform="scale(1,1.03)" style="font-size:24.8px" y="737.28"><tspan class="i" x="1250.5">R</tspan><tspan class="i" style="font-size:18px" dy="6.41">a</tspan><tspan dy="-6.41">(LED with sample)</tspan></text>
<text transform="scale(1,1.03)" style="font-size:24.8px" x="1249.5" y="766.70">= 95.2</text>
<text transform="scale(1,1.03)" style="font-size:24.8px" y="948.83"><tspan class="i" x="897.5">R</tspan><tspan class="i" style="font-size:18px" dy="6.41">a</tspan><tspan dy="-6.41">(LED without sample)</tspan></text>
<text transform="scale(1,1.03)" style="font-size:24.8px" x="896" y="978.06">= 86</text>
<text transform="scale(1,1.03)" x="1135" y="1050.00">Theoretical</text>
<text transform="scale(1,1.03)" x="1135" y="1083.88">maximum at</text>
<text transform="scale(1,1.03)" x="1135" y="1118.64"><tspan class="i">x</tspan><tspan class="sub" dy="6.80">max</tspan><tspan dy="-6.80"> = 0.9</tspan></text>
</svg></body></html>
